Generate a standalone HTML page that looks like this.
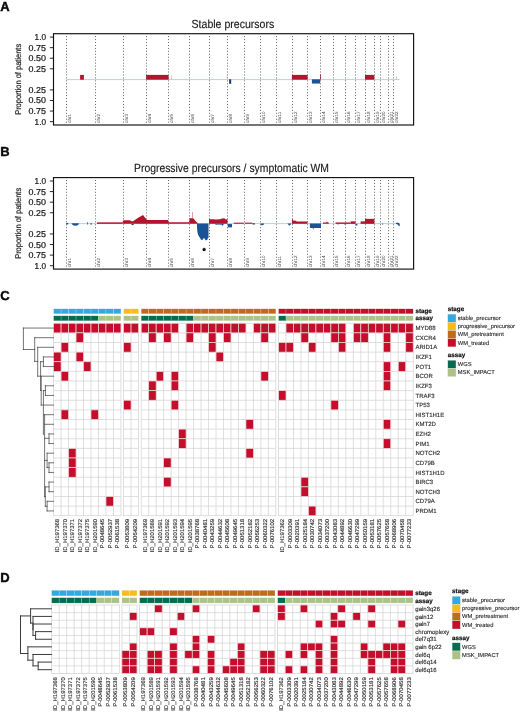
<!DOCTYPE html>
<html lang="en"><head><meta charset="utf-8"><title>Figure</title>
<style>html,body{margin:0;padding:0;background:#fff;width:520px;height:712px;overflow:hidden}svg{display:block;will-change:transform}</style></head>
<body>
<svg width="520" height="712" viewBox="0 0 520 712" text-rendering="geometricPrecision" font-family='"Liberation Sans", Arial, Helvetica, sans-serif'>
<rect width="520" height="712" fill="#fff"/>
<text x="0.2" y="11" font-size="13" font-weight="bold" fill="#0a0a0a" stroke="#0a0a0a" stroke-width="0.4">A</text>
<text x="0.2" y="155.6" font-size="13" font-weight="bold" fill="#0a0a0a" stroke="#0a0a0a" stroke-width="0.4">B</text>
<text x="0.2" y="299.75" font-size="13" font-weight="bold" fill="#0a0a0a" stroke="#0a0a0a" stroke-width="0.4">C</text>
<text x="0.2" y="581.8" font-size="13" font-weight="bold" fill="#0a0a0a" stroke="#0a0a0a" stroke-width="0.4">D</text>
<text x="232.9" y="27.8" font-size="11.8" text-anchor="middle" textLength="82.7" lengthAdjust="spacingAndGlyphs" fill="#1a1a1a" stroke="#1a1a1a" stroke-width="0.15">Stable precursors</text>
<line x1="66.5" y1="36.1" x2="66.5" y2="124.5" stroke="#4a4a4a" stroke-width="0.85" stroke-dasharray="1 1.95"/>
<line x1="95.5" y1="36.1" x2="95.5" y2="124.5" stroke="#4a4a4a" stroke-width="0.85" stroke-dasharray="1 1.95"/>
<line x1="123.5" y1="36.1" x2="123.5" y2="124.5" stroke="#4a4a4a" stroke-width="0.85" stroke-dasharray="1 1.95"/>
<line x1="146.5" y1="36.1" x2="146.5" y2="124.5" stroke="#4a4a4a" stroke-width="0.85" stroke-dasharray="1 1.95"/>
<line x1="168.5" y1="36.1" x2="168.5" y2="124.5" stroke="#4a4a4a" stroke-width="0.85" stroke-dasharray="1 1.95"/>
<line x1="189.5" y1="36.1" x2="189.5" y2="124.5" stroke="#4a4a4a" stroke-width="0.85" stroke-dasharray="1 1.95"/>
<line x1="209.5" y1="36.1" x2="209.5" y2="124.5" stroke="#4a4a4a" stroke-width="0.85" stroke-dasharray="1 1.95"/>
<line x1="227.5" y1="36.1" x2="227.5" y2="124.5" stroke="#4a4a4a" stroke-width="0.85" stroke-dasharray="1 1.95"/>
<line x1="244.5" y1="36.1" x2="244.5" y2="124.5" stroke="#4a4a4a" stroke-width="0.85" stroke-dasharray="1 1.95"/>
<line x1="260.5" y1="36.1" x2="260.5" y2="124.5" stroke="#4a4a4a" stroke-width="0.85" stroke-dasharray="1 1.95"/>
<line x1="276.5" y1="36.1" x2="276.5" y2="124.5" stroke="#4a4a4a" stroke-width="0.85" stroke-dasharray="1 1.95"/>
<line x1="292.5" y1="36.1" x2="292.5" y2="124.5" stroke="#4a4a4a" stroke-width="0.85" stroke-dasharray="1 1.95"/>
<line x1="307.5" y1="36.1" x2="307.5" y2="124.5" stroke="#4a4a4a" stroke-width="0.85" stroke-dasharray="1 1.95"/>
<line x1="320.5" y1="36.1" x2="320.5" y2="124.5" stroke="#4a4a4a" stroke-width="0.85" stroke-dasharray="1 1.95"/>
<line x1="333.5" y1="36.1" x2="333.5" y2="124.5" stroke="#4a4a4a" stroke-width="0.85" stroke-dasharray="1 1.95"/>
<line x1="345.5" y1="36.1" x2="345.5" y2="124.5" stroke="#4a4a4a" stroke-width="0.85" stroke-dasharray="1 1.95"/>
<line x1="355.5" y1="36.1" x2="355.5" y2="124.5" stroke="#4a4a4a" stroke-width="0.85" stroke-dasharray="1 1.95"/>
<line x1="365.5" y1="36.1" x2="365.5" y2="124.5" stroke="#4a4a4a" stroke-width="0.85" stroke-dasharray="1 1.95"/>
<line x1="374.5" y1="36.1" x2="374.5" y2="124.5" stroke="#4a4a4a" stroke-width="0.85" stroke-dasharray="1 1.95"/>
<line x1="380.5" y1="36.1" x2="380.5" y2="124.5" stroke="#4a4a4a" stroke-width="0.85" stroke-dasharray="1 1.95"/>
<line x1="388.5" y1="36.1" x2="388.5" y2="124.5" stroke="#4a4a4a" stroke-width="0.85" stroke-dasharray="1 1.95"/>
<line x1="393.5" y1="36.1" x2="393.5" y2="124.5" stroke="#4a4a4a" stroke-width="0.85" stroke-dasharray="1 1.95"/>
<text transform="translate(70.9 122.9) rotate(-90)" font-size="4.6" fill="#484848">chr1</text>
<text transform="translate(99.73 122.9) rotate(-90)" font-size="4.6" fill="#484848">chr2</text>
<text transform="translate(127.87 122.9) rotate(-90)" font-size="4.6" fill="#484848">chr3</text>
<text transform="translate(150.77 122.9) rotate(-90)" font-size="4.6" fill="#484848">chr4</text>
<text transform="translate(172.89 122.9) rotate(-90)" font-size="4.6" fill="#484848">chr5</text>
<text transform="translate(193.81 122.9) rotate(-90)" font-size="4.6" fill="#484848">chr6</text>
<text transform="translate(213.61 122.9) rotate(-90)" font-size="4.6" fill="#484848">chr7</text>
<text transform="translate(232.02 122.9) rotate(-90)" font-size="4.6" fill="#484848">chr8</text>
<text transform="translate(248.95 122.9) rotate(-90)" font-size="4.6" fill="#484848">chr9</text>
<text transform="translate(265.29 122.9) rotate(-90)" font-size="4.6" fill="#484848">chr10</text>
<text transform="translate(280.96 122.9) rotate(-90)" font-size="4.6" fill="#484848">chr11</text>
<text transform="translate(296.58 122.9) rotate(-90)" font-size="4.6" fill="#484848">chr12</text>
<text transform="translate(312.07 122.9) rotate(-90)" font-size="4.6" fill="#484848">chr13</text>
<text transform="translate(325.39 122.9) rotate(-90)" font-size="4.6" fill="#484848">chr14</text>
<text transform="translate(337.81 122.9) rotate(-90)" font-size="4.6" fill="#484848">chr15</text>
<text transform="translate(349.67 122.9) rotate(-90)" font-size="4.6" fill="#484848">chr16</text>
<text transform="translate(360.12 122.9) rotate(-90)" font-size="4.6" fill="#484848">chr17</text>
<text transform="translate(369.51 122.9) rotate(-90)" font-size="4.6" fill="#484848">chr18</text>
<text transform="translate(378.54 122.9) rotate(-90)" font-size="4.6" fill="#484848">chr19</text>
<text transform="translate(385.38 122.9) rotate(-90)" font-size="4.6" fill="#484848">chr20</text>
<text transform="translate(392.68 122.9) rotate(-90)" font-size="4.6" fill="#484848">chr21</text>
<text transform="translate(398.24 122.9) rotate(-90)" font-size="4.6" fill="#484848">chr22</text>
<line x1="66.4" y1="79.6" x2="399.68" y2="79.6" stroke="#b0cae0" stroke-width="0.9"/>
<rect x="80.1" y="74.9" width="3.8" height="4.8" fill="#b3152d"/>
<rect x="146.1" y="74.9" width="22.5" height="4.8" fill="#b3152d"/>
<rect x="171" y="75.3" width="0.5" height="4.4" fill="#d98a96"/>
<rect x="229.1" y="79.3" width="2.1" height="4.45" fill="#1b3f7c"/>
<rect x="226.4" y="75.15" width="0.4" height="3.95" fill="#ecc3cb"/>
<rect x="291.9" y="74.9" width="15.7" height="4.8" fill="#b3152d"/>
<rect x="311.9" y="79.3" width="8.2" height="4.25" fill="#1a5496"/>
<rect x="320.2" y="74.4" width="0.8" height="5.3" fill="#9c1a3a"/>
<rect x="365" y="74.9" width="9.3" height="4.8" fill="#b3152d"/>
<rect x="396" y="76.4" width="0.5" height="3.3" fill="#9f86b5"/>
<rect x="53.5" y="33.7" width="360.1" height="91.3" fill="none" stroke="#111" stroke-width="1.15"/>
<line x1="49.9" y1="37.08" x2="53.5" y2="37.08" stroke="#111" stroke-width="0.9"/>
<text x="46" y="40.08" font-size="8.6" text-anchor="end" textLength="11.4" lengthAdjust="spacingAndGlyphs" fill="#1a1a1a" stroke="#1a1a1a" stroke-width="0.22">1.0</text>
<line x1="49.9" y1="47.65" x2="53.5" y2="47.65" stroke="#111" stroke-width="0.9"/>
<text x="46" y="50.65" font-size="8.6" text-anchor="end" textLength="17.4" lengthAdjust="spacingAndGlyphs" fill="#1a1a1a" stroke="#1a1a1a" stroke-width="0.22">0.75</text>
<line x1="49.9" y1="58.22" x2="53.5" y2="58.22" stroke="#111" stroke-width="0.9"/>
<text x="46" y="61.22" font-size="8.6" text-anchor="end" textLength="17.4" lengthAdjust="spacingAndGlyphs" fill="#1a1a1a" stroke="#1a1a1a" stroke-width="0.22">0.50</text>
<line x1="49.9" y1="68.78" x2="53.5" y2="68.78" stroke="#111" stroke-width="0.9"/>
<text x="46" y="71.78" font-size="8.6" text-anchor="end" textLength="17.4" lengthAdjust="spacingAndGlyphs" fill="#1a1a1a" stroke="#1a1a1a" stroke-width="0.22">0.25</text>
<line x1="49.9" y1="89.92" x2="53.5" y2="89.92" stroke="#111" stroke-width="0.9"/>
<text x="46" y="92.92" font-size="8.6" text-anchor="end" textLength="17.4" lengthAdjust="spacingAndGlyphs" fill="#1a1a1a" stroke="#1a1a1a" stroke-width="0.22">0.25</text>
<line x1="49.9" y1="100.48" x2="53.5" y2="100.48" stroke="#111" stroke-width="0.9"/>
<text x="46" y="103.48" font-size="8.6" text-anchor="end" textLength="17.4" lengthAdjust="spacingAndGlyphs" fill="#1a1a1a" stroke="#1a1a1a" stroke-width="0.22">0.50</text>
<line x1="49.9" y1="111.05" x2="53.5" y2="111.05" stroke="#111" stroke-width="0.9"/>
<text x="46" y="114.05" font-size="8.6" text-anchor="end" textLength="17.4" lengthAdjust="spacingAndGlyphs" fill="#1a1a1a" stroke="#1a1a1a" stroke-width="0.22">0.75</text>
<line x1="49.9" y1="121.62" x2="53.5" y2="121.62" stroke="#111" stroke-width="0.9"/>
<text x="46" y="124.62" font-size="8.6" text-anchor="end" textLength="11.4" lengthAdjust="spacingAndGlyphs" fill="#1a1a1a" stroke="#1a1a1a" stroke-width="0.22">1.0</text>
<text transform="translate(21 79.35) rotate(-90)" font-size="8.3" text-anchor="middle" textLength="71" lengthAdjust="spacingAndGlyphs" fill="#1a1a1a" stroke="#1a1a1a" stroke-width="0.2">Proportion of patients</text>
<text x="231.5" y="172.3" font-size="11.8" text-anchor="middle" textLength="195" lengthAdjust="spacingAndGlyphs" fill="#1a1a1a" stroke="#1a1a1a" stroke-width="0.15">Progressive precursors / symptomatic WM</text>
<line x1="66.5" y1="180" x2="66.5" y2="268.6" stroke="#4a4a4a" stroke-width="0.85" stroke-dasharray="1 1.95"/>
<line x1="95.5" y1="180" x2="95.5" y2="268.6" stroke="#4a4a4a" stroke-width="0.85" stroke-dasharray="1 1.95"/>
<line x1="123.5" y1="180" x2="123.5" y2="268.6" stroke="#4a4a4a" stroke-width="0.85" stroke-dasharray="1 1.95"/>
<line x1="146.5" y1="180" x2="146.5" y2="268.6" stroke="#4a4a4a" stroke-width="0.85" stroke-dasharray="1 1.95"/>
<line x1="168.5" y1="180" x2="168.5" y2="268.6" stroke="#4a4a4a" stroke-width="0.85" stroke-dasharray="1 1.95"/>
<line x1="189.5" y1="180" x2="189.5" y2="268.6" stroke="#4a4a4a" stroke-width="0.85" stroke-dasharray="1 1.95"/>
<line x1="209.5" y1="180" x2="209.5" y2="268.6" stroke="#4a4a4a" stroke-width="0.85" stroke-dasharray="1 1.95"/>
<line x1="227.5" y1="180" x2="227.5" y2="268.6" stroke="#4a4a4a" stroke-width="0.85" stroke-dasharray="1 1.95"/>
<line x1="244.5" y1="180" x2="244.5" y2="268.6" stroke="#4a4a4a" stroke-width="0.85" stroke-dasharray="1 1.95"/>
<line x1="260.5" y1="180" x2="260.5" y2="268.6" stroke="#4a4a4a" stroke-width="0.85" stroke-dasharray="1 1.95"/>
<line x1="276.5" y1="180" x2="276.5" y2="268.6" stroke="#4a4a4a" stroke-width="0.85" stroke-dasharray="1 1.95"/>
<line x1="292.5" y1="180" x2="292.5" y2="268.6" stroke="#4a4a4a" stroke-width="0.85" stroke-dasharray="1 1.95"/>
<line x1="307.5" y1="180" x2="307.5" y2="268.6" stroke="#4a4a4a" stroke-width="0.85" stroke-dasharray="1 1.95"/>
<line x1="320.5" y1="180" x2="320.5" y2="268.6" stroke="#4a4a4a" stroke-width="0.85" stroke-dasharray="1 1.95"/>
<line x1="333.5" y1="180" x2="333.5" y2="268.6" stroke="#4a4a4a" stroke-width="0.85" stroke-dasharray="1 1.95"/>
<line x1="345.5" y1="180" x2="345.5" y2="268.6" stroke="#4a4a4a" stroke-width="0.85" stroke-dasharray="1 1.95"/>
<line x1="355.5" y1="180" x2="355.5" y2="268.6" stroke="#4a4a4a" stroke-width="0.85" stroke-dasharray="1 1.95"/>
<line x1="365.5" y1="180" x2="365.5" y2="268.6" stroke="#4a4a4a" stroke-width="0.85" stroke-dasharray="1 1.95"/>
<line x1="374.5" y1="180" x2="374.5" y2="268.6" stroke="#4a4a4a" stroke-width="0.85" stroke-dasharray="1 1.95"/>
<line x1="380.5" y1="180" x2="380.5" y2="268.6" stroke="#4a4a4a" stroke-width="0.85" stroke-dasharray="1 1.95"/>
<line x1="388.5" y1="180" x2="388.5" y2="268.6" stroke="#4a4a4a" stroke-width="0.85" stroke-dasharray="1 1.95"/>
<line x1="393.5" y1="180" x2="393.5" y2="268.6" stroke="#4a4a4a" stroke-width="0.85" stroke-dasharray="1 1.95"/>
<text transform="translate(70.9 267) rotate(-90)" font-size="4.6" fill="#484848">chr1</text>
<text transform="translate(99.73 267) rotate(-90)" font-size="4.6" fill="#484848">chr2</text>
<text transform="translate(127.87 267) rotate(-90)" font-size="4.6" fill="#484848">chr3</text>
<text transform="translate(150.77 267) rotate(-90)" font-size="4.6" fill="#484848">chr4</text>
<text transform="translate(172.89 267) rotate(-90)" font-size="4.6" fill="#484848">chr5</text>
<text transform="translate(193.81 267) rotate(-90)" font-size="4.6" fill="#484848">chr6</text>
<text transform="translate(213.61 267) rotate(-90)" font-size="4.6" fill="#484848">chr7</text>
<text transform="translate(232.02 267) rotate(-90)" font-size="4.6" fill="#484848">chr8</text>
<text transform="translate(248.95 267) rotate(-90)" font-size="4.6" fill="#484848">chr9</text>
<text transform="translate(265.29 267) rotate(-90)" font-size="4.6" fill="#484848">chr10</text>
<text transform="translate(280.96 267) rotate(-90)" font-size="4.6" fill="#484848">chr11</text>
<text transform="translate(296.58 267) rotate(-90)" font-size="4.6" fill="#484848">chr12</text>
<text transform="translate(312.07 267) rotate(-90)" font-size="4.6" fill="#484848">chr13</text>
<text transform="translate(325.39 267) rotate(-90)" font-size="4.6" fill="#484848">chr14</text>
<text transform="translate(337.81 267) rotate(-90)" font-size="4.6" fill="#484848">chr15</text>
<text transform="translate(349.67 267) rotate(-90)" font-size="4.6" fill="#484848">chr16</text>
<text transform="translate(360.12 267) rotate(-90)" font-size="4.6" fill="#484848">chr17</text>
<text transform="translate(369.51 267) rotate(-90)" font-size="4.6" fill="#484848">chr18</text>
<text transform="translate(378.54 267) rotate(-90)" font-size="4.6" fill="#484848">chr19</text>
<text transform="translate(385.38 267) rotate(-90)" font-size="4.6" fill="#484848">chr20</text>
<text transform="translate(392.68 267) rotate(-90)" font-size="4.6" fill="#484848">chr21</text>
<text transform="translate(398.24 267) rotate(-90)" font-size="4.6" fill="#484848">chr22</text>
<line x1="66.4" y1="223.6" x2="399.68" y2="223.6" stroke="#b0cae0" stroke-width="0.9"/>
<rect x="66.2" y="222.95" width="2" height="1.4" fill="#1a5496"/>
<polygon points="71.5,223.35 79,223.35 78.2,224.95 76,225.75 73.5,225.55 72.2,224.55" fill="#1a5496"/>
<rect x="87.2" y="222.15" width="0.7" height="2.4" fill="#1a5496"/>
<rect x="90.6" y="222.75" width="1" height="2" fill="#1a5496"/>
<rect x="97" y="222.35" width="25.6" height="1.5" fill="#b3152d"/>
<polygon points="122.6,223.85 122.6,221.75 123.5,220.15 130,220.15 131.5,221.15 133.2,221.35 134.4,220.15 139,217.35 143.1,215.05 144,216.35 146.9,220.05 168.1,220.05 168.6,222.35 189.2,222.35 189.2,223.85" fill="#b3152d"/>
<rect x="131.6" y="223.95" width="2" height="1.1" fill="#3b3260"/>
<polygon points="189.2,223.85 189.2,222.35 189.7,218.15 193.3,218.15 196.9,222.45 197.6,222.45 197.6,223.85" fill="#b3152d"/>
<rect x="192.3" y="212.15" width="0.5" height="6.2" fill="#c4384e"/>
<polygon points="196.9,223.55 208.5,223.55 208.5,237.75 207.8,238.15 207.2,239.95 205.4,240.25 204.6,238.35 203.6,238.15 202.8,239.65 200.8,239.65 200.3,238.15 199,236.55 198,234.55 197.4,231.85 197,227.35" fill="#1a5496"/>
<polygon points="209,223.85 209,219.15 214,219.15 215,219.55 220,219.35 222,218.55 224.5,218.35 225.2,219.15 227.5,219.35 227.5,223.85" fill="#b3152d"/>
<polygon points="214.5,223.85 224,223.85 223.4,224.75 222.6,225.95 221.8,224.75 218,224.55 216,224.85" fill="#1a5496"/>
<rect x="227.8" y="224.05" width="4.2" height="3.3" fill="#1a5496"/>
<rect x="233.8" y="222.65" width="10" height="1.1" fill="#b3152d"/>
<rect x="245" y="222.65" width="7.4" height="1.1" fill="#b3152d"/>
<rect x="252.6" y="223.15" width="2.2" height="1.4" fill="#1a5496"/>
<polygon points="260.6,223.55 264.2,223.55 263.4,224.95 261.2,225.15" fill="#1a5496"/>
<polygon points="287.4,223.55 291.2,223.55 290.4,224.95 289.2,225.55 288.2,224.55" fill="#1a5496"/>
<polygon points="291.9,223.85 291.9,218.95 292.6,218.95 293,220.55 296,220.75 296.6,221.45 307.5,221.45 307.5,223.85" fill="#b3152d"/>
<polygon points="309.9,223.55 321,223.55 321,228.05 313.6,228.05 313.2,229.95 312.7,228.05 309.9,228.05" fill="#1a5496"/>
<polygon points="323,223.85 323,222.45 326.2,222.45 327,221.55 327.8,222.45 328.8,222.45 328.8,223.85" fill="#b3152d"/>
<rect x="335.6" y="222.45" width="15" height="1.4" fill="#b3152d"/>
<rect x="337.7" y="223.85" width="0.7" height="0.8" fill="#1a5496"/>
<rect x="344.6" y="223.85" width="0.8" height="0.8" fill="#1a5496"/>
<rect x="350.6" y="221.35" width="4.9" height="2.5" fill="#b3152d"/>
<rect x="355.1" y="207.85" width="0.3" height="13.5" fill="#e59aa5"/>
<rect x="355.8" y="223.75" width="1.6" height="1.8" fill="#1a5496"/>
<rect x="360.6" y="221.35" width="4.4" height="2.5" fill="#b3152d"/>
<rect x="365" y="218.85" width="9.4" height="5" fill="#b3152d"/>
<rect x="382.2" y="223.55" width="1" height="1" fill="#1a5496"/>
<polygon points="396,222.75 398.6,222.75 399.8,223.95 399.6,226.25 398.6,225.75 397.4,224.25 396,223.95" fill="#1a5496"/>
<text x="204.1" y="252.95" font-size="7" text-anchor="middle" fill="#111" font-weight="bold" stroke="#111" stroke-width="0.7" stroke-linejoin="round">*</text>
<rect x="53.5" y="177.6" width="360.1" height="91.5" fill="none" stroke="#111" stroke-width="1.15"/>
<line x1="49.9" y1="180.99" x2="53.5" y2="180.99" stroke="#111" stroke-width="0.9"/>
<text x="46" y="183.99" font-size="8.6" text-anchor="end" textLength="11.4" lengthAdjust="spacingAndGlyphs" fill="#1a1a1a" stroke="#1a1a1a" stroke-width="0.22">1.0</text>
<line x1="49.9" y1="191.58" x2="53.5" y2="191.58" stroke="#111" stroke-width="0.9"/>
<text x="46" y="194.58" font-size="8.6" text-anchor="end" textLength="17.4" lengthAdjust="spacingAndGlyphs" fill="#1a1a1a" stroke="#1a1a1a" stroke-width="0.22">0.75</text>
<line x1="49.9" y1="202.17" x2="53.5" y2="202.17" stroke="#111" stroke-width="0.9"/>
<text x="46" y="205.17" font-size="8.6" text-anchor="end" textLength="17.4" lengthAdjust="spacingAndGlyphs" fill="#1a1a1a" stroke="#1a1a1a" stroke-width="0.22">0.50</text>
<line x1="49.9" y1="212.76" x2="53.5" y2="212.76" stroke="#111" stroke-width="0.9"/>
<text x="46" y="215.76" font-size="8.6" text-anchor="end" textLength="17.4" lengthAdjust="spacingAndGlyphs" fill="#1a1a1a" stroke="#1a1a1a" stroke-width="0.22">0.25</text>
<line x1="49.9" y1="233.94" x2="53.5" y2="233.94" stroke="#111" stroke-width="0.9"/>
<text x="46" y="236.94" font-size="8.6" text-anchor="end" textLength="17.4" lengthAdjust="spacingAndGlyphs" fill="#1a1a1a" stroke="#1a1a1a" stroke-width="0.22">0.25</text>
<line x1="49.9" y1="244.53" x2="53.5" y2="244.53" stroke="#111" stroke-width="0.9"/>
<text x="46" y="247.53" font-size="8.6" text-anchor="end" textLength="17.4" lengthAdjust="spacingAndGlyphs" fill="#1a1a1a" stroke="#1a1a1a" stroke-width="0.22">0.50</text>
<line x1="49.9" y1="255.12" x2="53.5" y2="255.12" stroke="#111" stroke-width="0.9"/>
<text x="46" y="258.12" font-size="8.6" text-anchor="end" textLength="17.4" lengthAdjust="spacingAndGlyphs" fill="#1a1a1a" stroke="#1a1a1a" stroke-width="0.22">0.75</text>
<line x1="49.9" y1="265.71" x2="53.5" y2="265.71" stroke="#111" stroke-width="0.9"/>
<text x="46" y="268.71" font-size="8.6" text-anchor="end" textLength="11.4" lengthAdjust="spacingAndGlyphs" fill="#1a1a1a" stroke="#1a1a1a" stroke-width="0.22">1.0</text>
<text transform="translate(21 223.35) rotate(-90)" font-size="8.3" text-anchor="middle" textLength="71" lengthAdjust="spacingAndGlyphs" fill="#1a1a1a" stroke="#1a1a1a" stroke-width="0.2">Proportion of patients</text>
<rect x="53.6" y="308.8" width="7.48" height="5" fill="#32a9df" stroke="#fff" stroke-opacity="0.55" stroke-width="0.35"/>
<rect x="53.6" y="315.8" width="7.48" height="5" fill="#066c50" stroke="#fff" stroke-opacity="0.55" stroke-width="0.35"/>
<rect x="61.08" y="308.8" width="7.48" height="5" fill="#32a9df" stroke="#fff" stroke-opacity="0.55" stroke-width="0.35"/>
<rect x="61.08" y="315.8" width="7.48" height="5" fill="#066c50" stroke="#fff" stroke-opacity="0.55" stroke-width="0.35"/>
<rect x="68.56" y="308.8" width="7.48" height="5" fill="#32a9df" stroke="#fff" stroke-opacity="0.55" stroke-width="0.35"/>
<rect x="68.56" y="315.8" width="7.48" height="5" fill="#066c50" stroke="#fff" stroke-opacity="0.55" stroke-width="0.35"/>
<rect x="76.05" y="308.8" width="7.48" height="5" fill="#32a9df" stroke="#fff" stroke-opacity="0.55" stroke-width="0.35"/>
<rect x="76.05" y="315.8" width="7.48" height="5" fill="#066c50" stroke="#fff" stroke-opacity="0.55" stroke-width="0.35"/>
<rect x="83.53" y="308.8" width="7.48" height="5" fill="#32a9df" stroke="#fff" stroke-opacity="0.55" stroke-width="0.35"/>
<rect x="83.53" y="315.8" width="7.48" height="5" fill="#066c50" stroke="#fff" stroke-opacity="0.55" stroke-width="0.35"/>
<rect x="91.01" y="308.8" width="7.48" height="5" fill="#32a9df" stroke="#fff" stroke-opacity="0.55" stroke-width="0.35"/>
<rect x="91.01" y="315.8" width="7.48" height="5" fill="#066c50" stroke="#fff" stroke-opacity="0.55" stroke-width="0.35"/>
<rect x="98.49" y="308.8" width="7.48" height="5" fill="#32a9df" stroke="#fff" stroke-opacity="0.55" stroke-width="0.35"/>
<rect x="98.49" y="315.8" width="7.48" height="5" fill="#acc388" stroke="#fff" stroke-opacity="0.55" stroke-width="0.35"/>
<rect x="105.97" y="308.8" width="7.48" height="5" fill="#32a9df" stroke="#fff" stroke-opacity="0.55" stroke-width="0.35"/>
<rect x="105.97" y="315.8" width="7.48" height="5" fill="#acc388" stroke="#fff" stroke-opacity="0.55" stroke-width="0.35"/>
<rect x="113.46" y="308.8" width="7.48" height="5" fill="#32a9df" stroke="#fff" stroke-opacity="0.55" stroke-width="0.35"/>
<rect x="113.46" y="315.8" width="7.48" height="5" fill="#acc388" stroke="#fff" stroke-opacity="0.55" stroke-width="0.35"/>
<rect x="123.59" y="308.8" width="7.48" height="5" fill="#f8bd14" stroke="#fff" stroke-opacity="0.55" stroke-width="0.35"/>
<rect x="123.59" y="315.8" width="7.48" height="5" fill="#acc388" stroke="#fff" stroke-opacity="0.55" stroke-width="0.35"/>
<rect x="131.07" y="308.8" width="7.48" height="5" fill="#f8bd14" stroke="#fff" stroke-opacity="0.55" stroke-width="0.35"/>
<rect x="131.07" y="315.8" width="7.48" height="5" fill="#acc388" stroke="#fff" stroke-opacity="0.55" stroke-width="0.35"/>
<rect x="141.2" y="308.8" width="7.48" height="5" fill="#c06b1b" stroke="#fff" stroke-opacity="0.55" stroke-width="0.35"/>
<rect x="141.2" y="315.8" width="7.48" height="5" fill="#066c50" stroke="#fff" stroke-opacity="0.55" stroke-width="0.35"/>
<rect x="148.68" y="308.8" width="7.48" height="5" fill="#c06b1b" stroke="#fff" stroke-opacity="0.55" stroke-width="0.35"/>
<rect x="148.68" y="315.8" width="7.48" height="5" fill="#066c50" stroke="#fff" stroke-opacity="0.55" stroke-width="0.35"/>
<rect x="156.16" y="308.8" width="7.48" height="5" fill="#c06b1b" stroke="#fff" stroke-opacity="0.55" stroke-width="0.35"/>
<rect x="156.16" y="315.8" width="7.48" height="5" fill="#066c50" stroke="#fff" stroke-opacity="0.55" stroke-width="0.35"/>
<rect x="163.65" y="308.8" width="7.48" height="5" fill="#c06b1b" stroke="#fff" stroke-opacity="0.55" stroke-width="0.35"/>
<rect x="163.65" y="315.8" width="7.48" height="5" fill="#066c50" stroke="#fff" stroke-opacity="0.55" stroke-width="0.35"/>
<rect x="171.13" y="308.8" width="7.48" height="5" fill="#c06b1b" stroke="#fff" stroke-opacity="0.55" stroke-width="0.35"/>
<rect x="171.13" y="315.8" width="7.48" height="5" fill="#066c50" stroke="#fff" stroke-opacity="0.55" stroke-width="0.35"/>
<rect x="178.61" y="308.8" width="7.48" height="5" fill="#c06b1b" stroke="#fff" stroke-opacity="0.55" stroke-width="0.35"/>
<rect x="178.61" y="315.8" width="7.48" height="5" fill="#066c50" stroke="#fff" stroke-opacity="0.55" stroke-width="0.35"/>
<rect x="186.09" y="308.8" width="7.48" height="5" fill="#c06b1b" stroke="#fff" stroke-opacity="0.55" stroke-width="0.35"/>
<rect x="186.09" y="315.8" width="7.48" height="5" fill="#066c50" stroke="#fff" stroke-opacity="0.55" stroke-width="0.35"/>
<rect x="193.57" y="308.8" width="7.48" height="5" fill="#c06b1b" stroke="#fff" stroke-opacity="0.55" stroke-width="0.35"/>
<rect x="193.57" y="315.8" width="7.48" height="5" fill="#acc388" stroke="#fff" stroke-opacity="0.55" stroke-width="0.35"/>
<rect x="201.06" y="308.8" width="7.48" height="5" fill="#c06b1b" stroke="#fff" stroke-opacity="0.55" stroke-width="0.35"/>
<rect x="201.06" y="315.8" width="7.48" height="5" fill="#acc388" stroke="#fff" stroke-opacity="0.55" stroke-width="0.35"/>
<rect x="208.54" y="308.8" width="7.48" height="5" fill="#c06b1b" stroke="#fff" stroke-opacity="0.55" stroke-width="0.35"/>
<rect x="208.54" y="315.8" width="7.48" height="5" fill="#acc388" stroke="#fff" stroke-opacity="0.55" stroke-width="0.35"/>
<rect x="216.02" y="308.8" width="7.48" height="5" fill="#c06b1b" stroke="#fff" stroke-opacity="0.55" stroke-width="0.35"/>
<rect x="216.02" y="315.8" width="7.48" height="5" fill="#acc388" stroke="#fff" stroke-opacity="0.55" stroke-width="0.35"/>
<rect x="223.5" y="308.8" width="7.48" height="5" fill="#c06b1b" stroke="#fff" stroke-opacity="0.55" stroke-width="0.35"/>
<rect x="223.5" y="315.8" width="7.48" height="5" fill="#acc388" stroke="#fff" stroke-opacity="0.55" stroke-width="0.35"/>
<rect x="230.98" y="308.8" width="7.48" height="5" fill="#c06b1b" stroke="#fff" stroke-opacity="0.55" stroke-width="0.35"/>
<rect x="230.98" y="315.8" width="7.48" height="5" fill="#acc388" stroke="#fff" stroke-opacity="0.55" stroke-width="0.35"/>
<rect x="238.47" y="308.8" width="7.48" height="5" fill="#c06b1b" stroke="#fff" stroke-opacity="0.55" stroke-width="0.35"/>
<rect x="238.47" y="315.8" width="7.48" height="5" fill="#acc388" stroke="#fff" stroke-opacity="0.55" stroke-width="0.35"/>
<rect x="245.95" y="308.8" width="7.48" height="5" fill="#c06b1b" stroke="#fff" stroke-opacity="0.55" stroke-width="0.35"/>
<rect x="245.95" y="315.8" width="7.48" height="5" fill="#acc388" stroke="#fff" stroke-opacity="0.55" stroke-width="0.35"/>
<rect x="253.43" y="308.8" width="7.48" height="5" fill="#c06b1b" stroke="#fff" stroke-opacity="0.55" stroke-width="0.35"/>
<rect x="253.43" y="315.8" width="7.48" height="5" fill="#acc388" stroke="#fff" stroke-opacity="0.55" stroke-width="0.35"/>
<rect x="260.91" y="308.8" width="7.48" height="5" fill="#c06b1b" stroke="#fff" stroke-opacity="0.55" stroke-width="0.35"/>
<rect x="260.91" y="315.8" width="7.48" height="5" fill="#acc388" stroke="#fff" stroke-opacity="0.55" stroke-width="0.35"/>
<rect x="268.39" y="308.8" width="7.48" height="5" fill="#c06b1b" stroke="#fff" stroke-opacity="0.55" stroke-width="0.35"/>
<rect x="268.39" y="315.8" width="7.48" height="5" fill="#acc388" stroke="#fff" stroke-opacity="0.55" stroke-width="0.35"/>
<rect x="278.53" y="308.8" width="7.48" height="5" fill="#c30e2c" stroke="#fff" stroke-opacity="0.55" stroke-width="0.35"/>
<rect x="278.53" y="315.8" width="7.48" height="5" fill="#066c50" stroke="#fff" stroke-opacity="0.55" stroke-width="0.35"/>
<rect x="286.01" y="308.8" width="7.48" height="5" fill="#c30e2c" stroke="#fff" stroke-opacity="0.55" stroke-width="0.35"/>
<rect x="286.01" y="315.8" width="7.48" height="5" fill="#acc388" stroke="#fff" stroke-opacity="0.55" stroke-width="0.35"/>
<rect x="293.49" y="308.8" width="7.48" height="5" fill="#c30e2c" stroke="#fff" stroke-opacity="0.55" stroke-width="0.35"/>
<rect x="293.49" y="315.8" width="7.48" height="5" fill="#acc388" stroke="#fff" stroke-opacity="0.55" stroke-width="0.35"/>
<rect x="300.97" y="308.8" width="7.48" height="5" fill="#c30e2c" stroke="#fff" stroke-opacity="0.55" stroke-width="0.35"/>
<rect x="300.97" y="315.8" width="7.48" height="5" fill="#acc388" stroke="#fff" stroke-opacity="0.55" stroke-width="0.35"/>
<rect x="308.45" y="308.8" width="7.48" height="5" fill="#c30e2c" stroke="#fff" stroke-opacity="0.55" stroke-width="0.35"/>
<rect x="308.45" y="315.8" width="7.48" height="5" fill="#acc388" stroke="#fff" stroke-opacity="0.55" stroke-width="0.35"/>
<rect x="315.94" y="308.8" width="7.48" height="5" fill="#c30e2c" stroke="#fff" stroke-opacity="0.55" stroke-width="0.35"/>
<rect x="315.94" y="315.8" width="7.48" height="5" fill="#acc388" stroke="#fff" stroke-opacity="0.55" stroke-width="0.35"/>
<rect x="323.42" y="308.8" width="7.48" height="5" fill="#c30e2c" stroke="#fff" stroke-opacity="0.55" stroke-width="0.35"/>
<rect x="323.42" y="315.8" width="7.48" height="5" fill="#acc388" stroke="#fff" stroke-opacity="0.55" stroke-width="0.35"/>
<rect x="330.9" y="308.8" width="7.48" height="5" fill="#c30e2c" stroke="#fff" stroke-opacity="0.55" stroke-width="0.35"/>
<rect x="330.9" y="315.8" width="7.48" height="5" fill="#acc388" stroke="#fff" stroke-opacity="0.55" stroke-width="0.35"/>
<rect x="338.38" y="308.8" width="7.48" height="5" fill="#c30e2c" stroke="#fff" stroke-opacity="0.55" stroke-width="0.35"/>
<rect x="338.38" y="315.8" width="7.48" height="5" fill="#acc388" stroke="#fff" stroke-opacity="0.55" stroke-width="0.35"/>
<rect x="345.86" y="308.8" width="7.48" height="5" fill="#c30e2c" stroke="#fff" stroke-opacity="0.55" stroke-width="0.35"/>
<rect x="345.86" y="315.8" width="7.48" height="5" fill="#acc388" stroke="#fff" stroke-opacity="0.55" stroke-width="0.35"/>
<rect x="353.34" y="308.8" width="7.48" height="5" fill="#c30e2c" stroke="#fff" stroke-opacity="0.55" stroke-width="0.35"/>
<rect x="353.34" y="315.8" width="7.48" height="5" fill="#acc388" stroke="#fff" stroke-opacity="0.55" stroke-width="0.35"/>
<rect x="360.83" y="308.8" width="7.48" height="5" fill="#c30e2c" stroke="#fff" stroke-opacity="0.55" stroke-width="0.35"/>
<rect x="360.83" y="315.8" width="7.48" height="5" fill="#acc388" stroke="#fff" stroke-opacity="0.55" stroke-width="0.35"/>
<rect x="368.31" y="308.8" width="7.48" height="5" fill="#c30e2c" stroke="#fff" stroke-opacity="0.55" stroke-width="0.35"/>
<rect x="368.31" y="315.8" width="7.48" height="5" fill="#acc388" stroke="#fff" stroke-opacity="0.55" stroke-width="0.35"/>
<rect x="375.79" y="308.8" width="7.48" height="5" fill="#c30e2c" stroke="#fff" stroke-opacity="0.55" stroke-width="0.35"/>
<rect x="375.79" y="315.8" width="7.48" height="5" fill="#acc388" stroke="#fff" stroke-opacity="0.55" stroke-width="0.35"/>
<rect x="383.27" y="308.8" width="7.48" height="5" fill="#c30e2c" stroke="#fff" stroke-opacity="0.55" stroke-width="0.35"/>
<rect x="383.27" y="315.8" width="7.48" height="5" fill="#acc388" stroke="#fff" stroke-opacity="0.55" stroke-width="0.35"/>
<rect x="390.75" y="308.8" width="7.48" height="5" fill="#c30e2c" stroke="#fff" stroke-opacity="0.55" stroke-width="0.35"/>
<rect x="390.75" y="315.8" width="7.48" height="5" fill="#acc388" stroke="#fff" stroke-opacity="0.55" stroke-width="0.35"/>
<rect x="398.24" y="308.8" width="7.48" height="5" fill="#c30e2c" stroke="#fff" stroke-opacity="0.55" stroke-width="0.35"/>
<rect x="398.24" y="315.8" width="7.48" height="5" fill="#acc388" stroke="#fff" stroke-opacity="0.55" stroke-width="0.35"/>
<rect x="405.72" y="308.8" width="7.48" height="5" fill="#c30e2c" stroke="#fff" stroke-opacity="0.55" stroke-width="0.35"/>
<rect x="405.72" y="315.8" width="7.48" height="5" fill="#acc388" stroke="#fff" stroke-opacity="0.55" stroke-width="0.35"/>
<rect x="53.6" y="323.25" width="67.34" height="192.5" fill="#fff" stroke="#d1d1d1" stroke-width="0.7"/>
<path d="M61.08 323.25V515.75M68.56 323.25V515.75M76.05 323.25V515.75M83.53 323.25V515.75M91.01 323.25V515.75M98.49 323.25V515.75M105.97 323.25V515.75M113.46 323.25V515.75M53.6 332.88H120.94M53.6 342.5H120.94M53.6 352.12H120.94M53.6 361.75H120.94M53.6 371.38H120.94M53.6 381H120.94M53.6 390.62H120.94M53.6 400.25H120.94M53.6 409.88H120.94M53.6 419.5H120.94M53.6 429.12H120.94M53.6 438.75H120.94M53.6 448.38H120.94M53.6 458H120.94M53.6 467.62H120.94M53.6 477.25H120.94M53.6 486.88H120.94M53.6 496.5H120.94M53.6 506.12H120.94" stroke="#d1d1d1" stroke-width="0.7" fill="none"/>
<rect x="123.59" y="323.25" width="14.96" height="192.5" fill="#fff" stroke="#d1d1d1" stroke-width="0.7"/>
<path d="M131.07 323.25V515.75M123.59 332.88H138.55M123.59 342.5H138.55M123.59 352.12H138.55M123.59 361.75H138.55M123.59 371.38H138.55M123.59 381H138.55M123.59 390.62H138.55M123.59 400.25H138.55M123.59 409.88H138.55M123.59 419.5H138.55M123.59 429.12H138.55M123.59 438.75H138.55M123.59 448.38H138.55M123.59 458H138.55M123.59 467.62H138.55M123.59 477.25H138.55M123.59 486.88H138.55M123.59 496.5H138.55M123.59 506.12H138.55" stroke="#d1d1d1" stroke-width="0.7" fill="none"/>
<rect x="141.2" y="323.25" width="134.67" height="192.5" fill="#fff" stroke="#d1d1d1" stroke-width="0.7"/>
<path d="M148.68 323.25V515.75M156.16 323.25V515.75M163.65 323.25V515.75M171.13 323.25V515.75M178.61 323.25V515.75M186.09 323.25V515.75M193.57 323.25V515.75M201.06 323.25V515.75M208.54 323.25V515.75M216.02 323.25V515.75M223.5 323.25V515.75M230.98 323.25V515.75M238.47 323.25V515.75M245.95 323.25V515.75M253.43 323.25V515.75M260.91 323.25V515.75M268.39 323.25V515.75M141.2 332.88H275.88M141.2 342.5H275.88M141.2 352.12H275.88M141.2 361.75H275.88M141.2 371.38H275.88M141.2 381H275.88M141.2 390.62H275.88M141.2 400.25H275.88M141.2 409.88H275.88M141.2 419.5H275.88M141.2 429.12H275.88M141.2 438.75H275.88M141.2 448.38H275.88M141.2 458H275.88M141.2 467.62H275.88M141.2 477.25H275.88M141.2 486.88H275.88M141.2 496.5H275.88M141.2 506.12H275.88" stroke="#d1d1d1" stroke-width="0.7" fill="none"/>
<rect x="278.53" y="323.25" width="134.67" height="192.5" fill="#fff" stroke="#d1d1d1" stroke-width="0.7"/>
<path d="M286.01 323.25V515.75M293.49 323.25V515.75M300.97 323.25V515.75M308.45 323.25V515.75M315.94 323.25V515.75M323.42 323.25V515.75M330.9 323.25V515.75M338.38 323.25V515.75M345.86 323.25V515.75M353.34 323.25V515.75M360.83 323.25V515.75M368.31 323.25V515.75M375.79 323.25V515.75M383.27 323.25V515.75M390.75 323.25V515.75M398.24 323.25V515.75M405.72 323.25V515.75M278.53 332.88H413.2M278.53 342.5H413.2M278.53 352.12H413.2M278.53 361.75H413.2M278.53 371.38H413.2M278.53 381H413.2M278.53 390.62H413.2M278.53 400.25H413.2M278.53 409.88H413.2M278.53 419.5H413.2M278.53 429.12H413.2M278.53 438.75H413.2M278.53 448.38H413.2M278.53 458H413.2M278.53 467.62H413.2M278.53 477.25H413.2M278.53 486.88H413.2M278.53 496.5H413.2M278.53 506.12H413.2" stroke="#d1d1d1" stroke-width="0.7" fill="none"/>
<rect x="53.6" y="323.25" width="7.48" height="9.62" fill="#c50d2c" stroke="#efdcde" stroke-width="0.7"/>
<rect x="61.08" y="323.25" width="7.48" height="9.62" fill="#c50d2c" stroke="#efdcde" stroke-width="0.7"/>
<rect x="68.56" y="323.25" width="7.48" height="9.62" fill="#c50d2c" stroke="#efdcde" stroke-width="0.7"/>
<rect x="76.05" y="323.25" width="7.48" height="9.62" fill="#c50d2c" stroke="#efdcde" stroke-width="0.7"/>
<rect x="83.53" y="323.25" width="7.48" height="9.62" fill="#c50d2c" stroke="#efdcde" stroke-width="0.7"/>
<rect x="91.01" y="323.25" width="7.48" height="9.62" fill="#c50d2c" stroke="#efdcde" stroke-width="0.7"/>
<rect x="98.49" y="323.25" width="7.48" height="9.62" fill="#c50d2c" stroke="#efdcde" stroke-width="0.7"/>
<rect x="105.97" y="323.25" width="7.48" height="9.62" fill="#c50d2c" stroke="#efdcde" stroke-width="0.7"/>
<rect x="113.46" y="323.25" width="7.48" height="9.62" fill="#c50d2c" stroke="#efdcde" stroke-width="0.7"/>
<rect x="123.59" y="323.25" width="7.48" height="9.62" fill="#c50d2c" stroke="#efdcde" stroke-width="0.7"/>
<rect x="131.07" y="323.25" width="7.48" height="9.62" fill="#c50d2c" stroke="#efdcde" stroke-width="0.7"/>
<rect x="141.2" y="323.25" width="7.48" height="9.62" fill="#c50d2c" stroke="#efdcde" stroke-width="0.7"/>
<rect x="148.68" y="323.25" width="7.48" height="9.62" fill="#c50d2c" stroke="#efdcde" stroke-width="0.7"/>
<rect x="156.16" y="323.25" width="7.48" height="9.62" fill="#c50d2c" stroke="#efdcde" stroke-width="0.7"/>
<rect x="163.65" y="323.25" width="7.48" height="9.62" fill="#c50d2c" stroke="#efdcde" stroke-width="0.7"/>
<rect x="171.13" y="323.25" width="7.48" height="9.62" fill="#c50d2c" stroke="#efdcde" stroke-width="0.7"/>
<rect x="186.09" y="323.25" width="7.48" height="9.62" fill="#c50d2c" stroke="#efdcde" stroke-width="0.7"/>
<rect x="193.57" y="323.25" width="7.48" height="9.62" fill="#c50d2c" stroke="#efdcde" stroke-width="0.7"/>
<rect x="201.06" y="323.25" width="7.48" height="9.62" fill="#c50d2c" stroke="#efdcde" stroke-width="0.7"/>
<rect x="208.54" y="323.25" width="7.48" height="9.62" fill="#c50d2c" stroke="#efdcde" stroke-width="0.7"/>
<rect x="216.02" y="323.25" width="7.48" height="9.62" fill="#c50d2c" stroke="#efdcde" stroke-width="0.7"/>
<rect x="223.5" y="323.25" width="7.48" height="9.62" fill="#c50d2c" stroke="#efdcde" stroke-width="0.7"/>
<rect x="230.98" y="323.25" width="7.48" height="9.62" fill="#c50d2c" stroke="#efdcde" stroke-width="0.7"/>
<rect x="238.47" y="323.25" width="7.48" height="9.62" fill="#c50d2c" stroke="#efdcde" stroke-width="0.7"/>
<rect x="253.43" y="323.25" width="7.48" height="9.62" fill="#c50d2c" stroke="#efdcde" stroke-width="0.7"/>
<rect x="260.91" y="323.25" width="7.48" height="9.62" fill="#c50d2c" stroke="#efdcde" stroke-width="0.7"/>
<rect x="268.39" y="323.25" width="7.48" height="9.62" fill="#c50d2c" stroke="#efdcde" stroke-width="0.7"/>
<rect x="286.01" y="323.25" width="7.48" height="9.62" fill="#c50d2c" stroke="#efdcde" stroke-width="0.7"/>
<rect x="293.49" y="323.25" width="7.48" height="9.62" fill="#c50d2c" stroke="#efdcde" stroke-width="0.7"/>
<rect x="300.97" y="323.25" width="7.48" height="9.62" fill="#c50d2c" stroke="#efdcde" stroke-width="0.7"/>
<rect x="308.45" y="323.25" width="7.48" height="9.62" fill="#c50d2c" stroke="#efdcde" stroke-width="0.7"/>
<rect x="315.94" y="323.25" width="7.48" height="9.62" fill="#c50d2c" stroke="#efdcde" stroke-width="0.7"/>
<rect x="323.42" y="323.25" width="7.48" height="9.62" fill="#c50d2c" stroke="#efdcde" stroke-width="0.7"/>
<rect x="330.9" y="323.25" width="7.48" height="9.62" fill="#c50d2c" stroke="#efdcde" stroke-width="0.7"/>
<rect x="338.38" y="323.25" width="7.48" height="9.62" fill="#c50d2c" stroke="#efdcde" stroke-width="0.7"/>
<rect x="353.34" y="323.25" width="7.48" height="9.62" fill="#c50d2c" stroke="#efdcde" stroke-width="0.7"/>
<rect x="360.83" y="323.25" width="7.48" height="9.62" fill="#c50d2c" stroke="#efdcde" stroke-width="0.7"/>
<rect x="368.31" y="323.25" width="7.48" height="9.62" fill="#c50d2c" stroke="#efdcde" stroke-width="0.7"/>
<rect x="375.79" y="323.25" width="7.48" height="9.62" fill="#c50d2c" stroke="#efdcde" stroke-width="0.7"/>
<rect x="383.27" y="323.25" width="7.48" height="9.62" fill="#c50d2c" stroke="#efdcde" stroke-width="0.7"/>
<rect x="390.75" y="323.25" width="7.48" height="9.62" fill="#c50d2c" stroke="#efdcde" stroke-width="0.7"/>
<rect x="398.24" y="323.25" width="7.48" height="9.62" fill="#c50d2c" stroke="#efdcde" stroke-width="0.7"/>
<rect x="405.72" y="323.25" width="7.48" height="9.62" fill="#c50d2c" stroke="#efdcde" stroke-width="0.7"/>
<rect x="76.05" y="332.88" width="7.48" height="9.62" fill="#c50d2c" stroke="#efdcde" stroke-width="0.7"/>
<rect x="148.68" y="332.88" width="7.48" height="9.62" fill="#c50d2c" stroke="#efdcde" stroke-width="0.7"/>
<rect x="163.65" y="332.88" width="7.48" height="9.62" fill="#c50d2c" stroke="#efdcde" stroke-width="0.7"/>
<rect x="186.09" y="332.88" width="7.48" height="9.62" fill="#c50d2c" stroke="#efdcde" stroke-width="0.7"/>
<rect x="208.54" y="332.88" width="7.48" height="9.62" fill="#c50d2c" stroke="#efdcde" stroke-width="0.7"/>
<rect x="223.5" y="332.88" width="7.48" height="9.62" fill="#c50d2c" stroke="#efdcde" stroke-width="0.7"/>
<rect x="260.91" y="332.88" width="7.48" height="9.62" fill="#c50d2c" stroke="#efdcde" stroke-width="0.7"/>
<rect x="300.97" y="332.88" width="7.48" height="9.62" fill="#c50d2c" stroke="#efdcde" stroke-width="0.7"/>
<rect x="330.9" y="332.88" width="7.48" height="9.62" fill="#c50d2c" stroke="#efdcde" stroke-width="0.7"/>
<rect x="338.38" y="332.88" width="7.48" height="9.62" fill="#c50d2c" stroke="#efdcde" stroke-width="0.7"/>
<rect x="353.34" y="332.88" width="7.48" height="9.62" fill="#c50d2c" stroke="#efdcde" stroke-width="0.7"/>
<rect x="360.83" y="332.88" width="7.48" height="9.62" fill="#c50d2c" stroke="#efdcde" stroke-width="0.7"/>
<rect x="383.27" y="332.88" width="7.48" height="9.62" fill="#c50d2c" stroke="#efdcde" stroke-width="0.7"/>
<rect x="405.72" y="332.88" width="7.48" height="9.62" fill="#c50d2c" stroke="#efdcde" stroke-width="0.7"/>
<rect x="61.08" y="342.5" width="7.48" height="9.62" fill="#c50d2c" stroke="#efdcde" stroke-width="0.7"/>
<rect x="123.59" y="342.5" width="7.48" height="9.62" fill="#c50d2c" stroke="#efdcde" stroke-width="0.7"/>
<rect x="208.54" y="342.5" width="7.48" height="9.62" fill="#c50d2c" stroke="#efdcde" stroke-width="0.7"/>
<rect x="278.53" y="342.5" width="7.48" height="9.62" fill="#c50d2c" stroke="#efdcde" stroke-width="0.7"/>
<rect x="286.01" y="342.5" width="7.48" height="9.62" fill="#c50d2c" stroke="#efdcde" stroke-width="0.7"/>
<rect x="308.45" y="342.5" width="7.48" height="9.62" fill="#c50d2c" stroke="#efdcde" stroke-width="0.7"/>
<rect x="338.38" y="342.5" width="7.48" height="9.62" fill="#c50d2c" stroke="#efdcde" stroke-width="0.7"/>
<rect x="383.27" y="342.5" width="7.48" height="9.62" fill="#c50d2c" stroke="#efdcde" stroke-width="0.7"/>
<rect x="405.72" y="342.5" width="7.48" height="9.62" fill="#c50d2c" stroke="#efdcde" stroke-width="0.7"/>
<rect x="53.6" y="352.12" width="7.48" height="9.62" fill="#c50d2c" stroke="#efdcde" stroke-width="0.7"/>
<rect x="76.05" y="352.12" width="7.48" height="9.62" fill="#c50d2c" stroke="#efdcde" stroke-width="0.7"/>
<rect x="216.02" y="352.12" width="7.48" height="9.62" fill="#c50d2c" stroke="#efdcde" stroke-width="0.7"/>
<rect x="53.6" y="361.75" width="7.48" height="9.62" fill="#c50d2c" stroke="#efdcde" stroke-width="0.7"/>
<rect x="83.53" y="361.75" width="7.48" height="9.62" fill="#c50d2c" stroke="#efdcde" stroke-width="0.7"/>
<rect x="383.27" y="361.75" width="7.48" height="9.62" fill="#c50d2c" stroke="#efdcde" stroke-width="0.7"/>
<rect x="398.24" y="361.75" width="7.48" height="9.62" fill="#c50d2c" stroke="#efdcde" stroke-width="0.7"/>
<rect x="61.08" y="371.38" width="7.48" height="9.62" fill="#c50d2c" stroke="#efdcde" stroke-width="0.7"/>
<rect x="156.16" y="371.38" width="7.48" height="9.62" fill="#c50d2c" stroke="#efdcde" stroke-width="0.7"/>
<rect x="171.13" y="371.38" width="7.48" height="9.62" fill="#c50d2c" stroke="#efdcde" stroke-width="0.7"/>
<rect x="260.91" y="371.38" width="7.48" height="9.62" fill="#c50d2c" stroke="#efdcde" stroke-width="0.7"/>
<rect x="383.27" y="371.38" width="7.48" height="9.62" fill="#c50d2c" stroke="#efdcde" stroke-width="0.7"/>
<rect x="148.68" y="381" width="7.48" height="9.62" fill="#c50d2c" stroke="#efdcde" stroke-width="0.7"/>
<rect x="171.13" y="381" width="7.48" height="9.62" fill="#c50d2c" stroke="#efdcde" stroke-width="0.7"/>
<rect x="383.27" y="381" width="7.48" height="9.62" fill="#c50d2c" stroke="#efdcde" stroke-width="0.7"/>
<rect x="148.68" y="390.62" width="7.48" height="9.62" fill="#c50d2c" stroke="#efdcde" stroke-width="0.7"/>
<rect x="278.53" y="390.62" width="7.48" height="9.62" fill="#c50d2c" stroke="#efdcde" stroke-width="0.7"/>
<rect x="123.59" y="400.25" width="7.48" height="9.62" fill="#c50d2c" stroke="#efdcde" stroke-width="0.7"/>
<rect x="171.13" y="400.25" width="7.48" height="9.62" fill="#c50d2c" stroke="#efdcde" stroke-width="0.7"/>
<rect x="330.9" y="400.25" width="7.48" height="9.62" fill="#c50d2c" stroke="#efdcde" stroke-width="0.7"/>
<rect x="61.08" y="409.88" width="7.48" height="9.62" fill="#c50d2c" stroke="#efdcde" stroke-width="0.7"/>
<rect x="91.01" y="409.88" width="7.48" height="9.62" fill="#c50d2c" stroke="#efdcde" stroke-width="0.7"/>
<rect x="245.95" y="419.5" width="7.48" height="9.62" fill="#c50d2c" stroke="#efdcde" stroke-width="0.7"/>
<rect x="383.27" y="419.5" width="7.48" height="9.62" fill="#c50d2c" stroke="#efdcde" stroke-width="0.7"/>
<rect x="178.61" y="429.12" width="7.48" height="9.62" fill="#c50d2c" stroke="#efdcde" stroke-width="0.7"/>
<rect x="178.61" y="438.75" width="7.48" height="9.62" fill="#c50d2c" stroke="#efdcde" stroke-width="0.7"/>
<rect x="383.27" y="438.75" width="7.48" height="9.62" fill="#c50d2c" stroke="#efdcde" stroke-width="0.7"/>
<rect x="68.56" y="448.38" width="7.48" height="9.62" fill="#c50d2c" stroke="#efdcde" stroke-width="0.7"/>
<rect x="245.95" y="448.38" width="7.48" height="9.62" fill="#c50d2c" stroke="#efdcde" stroke-width="0.7"/>
<rect x="68.56" y="458" width="7.48" height="9.62" fill="#c50d2c" stroke="#efdcde" stroke-width="0.7"/>
<rect x="163.65" y="458" width="7.48" height="9.62" fill="#c50d2c" stroke="#efdcde" stroke-width="0.7"/>
<rect x="68.56" y="467.62" width="7.48" height="9.62" fill="#c50d2c" stroke="#efdcde" stroke-width="0.7"/>
<rect x="163.65" y="477.25" width="7.48" height="9.62" fill="#c50d2c" stroke="#efdcde" stroke-width="0.7"/>
<rect x="300.97" y="477.25" width="7.48" height="9.62" fill="#c50d2c" stroke="#efdcde" stroke-width="0.7"/>
<rect x="300.97" y="486.88" width="7.48" height="9.62" fill="#c50d2c" stroke="#efdcde" stroke-width="0.7"/>
<rect x="105.97" y="496.5" width="7.48" height="9.62" fill="#c50d2c" stroke="#efdcde" stroke-width="0.7"/>
<rect x="308.45" y="506.12" width="7.48" height="9.62" fill="#c50d2c" stroke="#efdcde" stroke-width="0.7"/>
<text x="415.5" y="313.4" font-size="6.25" font-weight="bold" fill="#111" stroke="#111" stroke-width="0.2">stage</text>
<text x="415.5" y="320.4" font-size="6.25" font-weight="bold" fill="#111" stroke="#111" stroke-width="0.2">assay</text>
<text x="415.5" y="330.21" font-size="6" fill="#2b2b2b" stroke="#2b2b2b" stroke-width="0.13">MYD88</text>
<text x="415.5" y="339.84" font-size="6" fill="#2b2b2b" stroke="#2b2b2b" stroke-width="0.13">CXCR4</text>
<text x="415.5" y="349.46" font-size="6" fill="#2b2b2b" stroke="#2b2b2b" stroke-width="0.13">ARID1A</text>
<text x="415.5" y="359.09" font-size="6" fill="#2b2b2b" stroke="#2b2b2b" stroke-width="0.13">IKZF1</text>
<text x="415.5" y="368.71" font-size="6" fill="#2b2b2b" stroke="#2b2b2b" stroke-width="0.13">POT1</text>
<text x="415.5" y="378.34" font-size="6" fill="#2b2b2b" stroke="#2b2b2b" stroke-width="0.13">BCOR</text>
<text x="415.5" y="387.96" font-size="6" fill="#2b2b2b" stroke="#2b2b2b" stroke-width="0.13">IKZF3</text>
<text x="415.5" y="397.59" font-size="6" fill="#2b2b2b" stroke="#2b2b2b" stroke-width="0.13">TRAF3</text>
<text x="415.5" y="407.21" font-size="6" fill="#2b2b2b" stroke="#2b2b2b" stroke-width="0.13">TP53</text>
<text x="415.5" y="416.84" font-size="6" fill="#2b2b2b" stroke="#2b2b2b" stroke-width="0.13">HIST1H1E</text>
<text x="415.5" y="426.46" font-size="6" fill="#2b2b2b" stroke="#2b2b2b" stroke-width="0.13">KMT2D</text>
<text x="415.5" y="436.09" font-size="6" fill="#2b2b2b" stroke="#2b2b2b" stroke-width="0.13">EZH2</text>
<text x="415.5" y="445.71" font-size="6" fill="#2b2b2b" stroke="#2b2b2b" stroke-width="0.13">PIM1</text>
<text x="415.5" y="455.34" font-size="6" fill="#2b2b2b" stroke="#2b2b2b" stroke-width="0.13">NOTCH2</text>
<text x="415.5" y="464.96" font-size="6" fill="#2b2b2b" stroke="#2b2b2b" stroke-width="0.13">CD79B</text>
<text x="415.5" y="474.59" font-size="6" fill="#2b2b2b" stroke="#2b2b2b" stroke-width="0.13">HIST1H1D</text>
<text x="415.5" y="484.21" font-size="6" fill="#2b2b2b" stroke="#2b2b2b" stroke-width="0.13">BIRC3</text>
<text x="415.5" y="493.84" font-size="6" fill="#2b2b2b" stroke="#2b2b2b" stroke-width="0.13">NOTCH3</text>
<text x="415.5" y="503.46" font-size="6" fill="#2b2b2b" stroke="#2b2b2b" stroke-width="0.13">CD79A</text>
<text x="415.5" y="513.09" font-size="6" fill="#2b2b2b" stroke="#2b2b2b" stroke-width="0.13">PRDM1</text>
<text transform="translate(59.29 518.8) rotate(-90)" font-size="5.5" text-anchor="end" textLength="33.6" lengthAdjust="spacingAndGlyphs" fill="#333" stroke="#333" stroke-width="0.15">ID_H197368</text>
<text transform="translate(66.77 518.8) rotate(-90)" font-size="5.5" text-anchor="end" textLength="33.6" lengthAdjust="spacingAndGlyphs" fill="#333" stroke="#333" stroke-width="0.15">ID_H197370</text>
<text transform="translate(74.25 518.8) rotate(-90)" font-size="5.5" text-anchor="end" textLength="33.6" lengthAdjust="spacingAndGlyphs" fill="#333" stroke="#333" stroke-width="0.15">ID_H197371</text>
<text transform="translate(81.74 518.8) rotate(-90)" font-size="5.5" text-anchor="end" textLength="33.6" lengthAdjust="spacingAndGlyphs" fill="#333" stroke="#333" stroke-width="0.15">ID_H197372</text>
<text transform="translate(89.22 518.8) rotate(-90)" font-size="5.5" text-anchor="end" textLength="33.6" lengthAdjust="spacingAndGlyphs" fill="#333" stroke="#333" stroke-width="0.15">ID_H197375</text>
<text transform="translate(96.7 518.8) rotate(-90)" font-size="5.5" text-anchor="end" textLength="33.6" lengthAdjust="spacingAndGlyphs" fill="#333" stroke="#333" stroke-width="0.15">ID_H201590</text>
<text transform="translate(104.18 518.8) rotate(-90)" font-size="5.5" text-anchor="end" textLength="29.6" lengthAdjust="spacingAndGlyphs" fill="#333" stroke="#333" stroke-width="0.15">P-0048645</text>
<text transform="translate(111.66 518.8) rotate(-90)" font-size="5.5" text-anchor="end" textLength="29.6" lengthAdjust="spacingAndGlyphs" fill="#333" stroke="#333" stroke-width="0.15">P-0052937</text>
<text transform="translate(119.15 518.8) rotate(-90)" font-size="5.5" text-anchor="end" textLength="29.6" lengthAdjust="spacingAndGlyphs" fill="#333" stroke="#333" stroke-width="0.15">P-0061538</text>
<text transform="translate(129.28 518.8) rotate(-90)" font-size="5.5" text-anchor="end" textLength="29.6" lengthAdjust="spacingAndGlyphs" fill="#333" stroke="#333" stroke-width="0.15">P-0053809</text>
<text transform="translate(136.76 518.8) rotate(-90)" font-size="5.5" text-anchor="end" textLength="29.6" lengthAdjust="spacingAndGlyphs" fill="#333" stroke="#333" stroke-width="0.15">P-0054209</text>
<text transform="translate(146.89 518.8) rotate(-90)" font-size="5.5" text-anchor="end" textLength="33.6" lengthAdjust="spacingAndGlyphs" fill="#333" stroke="#333" stroke-width="0.15">ID_H197369</text>
<text transform="translate(154.37 518.8) rotate(-90)" font-size="5.5" text-anchor="end" textLength="33.6" lengthAdjust="spacingAndGlyphs" fill="#333" stroke="#333" stroke-width="0.15">ID_H201589</text>
<text transform="translate(161.86 518.8) rotate(-90)" font-size="5.5" text-anchor="end" textLength="33.6" lengthAdjust="spacingAndGlyphs" fill="#333" stroke="#333" stroke-width="0.15">ID_H201591</text>
<text transform="translate(169.34 518.8) rotate(-90)" font-size="5.5" text-anchor="end" textLength="33.6" lengthAdjust="spacingAndGlyphs" fill="#333" stroke="#333" stroke-width="0.15">ID_H201592</text>
<text transform="translate(176.82 518.8) rotate(-90)" font-size="5.5" text-anchor="end" textLength="33.6" lengthAdjust="spacingAndGlyphs" fill="#333" stroke="#333" stroke-width="0.15">ID_H201593</text>
<text transform="translate(184.3 518.8) rotate(-90)" font-size="5.5" text-anchor="end" textLength="33.6" lengthAdjust="spacingAndGlyphs" fill="#333" stroke="#333" stroke-width="0.15">ID_H201594</text>
<text transform="translate(191.78 518.8) rotate(-90)" font-size="5.5" text-anchor="end" textLength="33.6" lengthAdjust="spacingAndGlyphs" fill="#333" stroke="#333" stroke-width="0.15">ID_H201595</text>
<text transform="translate(199.27 518.8) rotate(-90)" font-size="5.5" text-anchor="end" textLength="29.6" lengthAdjust="spacingAndGlyphs" fill="#333" stroke="#333" stroke-width="0.15">P-0038768</text>
<text transform="translate(206.75 518.8) rotate(-90)" font-size="5.5" text-anchor="end" textLength="29.6" lengthAdjust="spacingAndGlyphs" fill="#333" stroke="#333" stroke-width="0.15">P-0040481</text>
<text transform="translate(214.23 518.8) rotate(-90)" font-size="5.5" text-anchor="end" textLength="29.6" lengthAdjust="spacingAndGlyphs" fill="#333" stroke="#333" stroke-width="0.15">P-0043259</text>
<text transform="translate(221.71 518.8) rotate(-90)" font-size="5.5" text-anchor="end" textLength="29.6" lengthAdjust="spacingAndGlyphs" fill="#333" stroke="#333" stroke-width="0.15">P-0044632</text>
<text transform="translate(229.19 518.8) rotate(-90)" font-size="5.5" text-anchor="end" textLength="29.6" lengthAdjust="spacingAndGlyphs" fill="#333" stroke="#333" stroke-width="0.15">P-0045608</text>
<text transform="translate(236.68 518.8) rotate(-90)" font-size="5.5" text-anchor="end" textLength="29.6" lengthAdjust="spacingAndGlyphs" fill="#333" stroke="#333" stroke-width="0.15">P-0049645</text>
<text transform="translate(244.16 518.8) rotate(-90)" font-size="5.5" text-anchor="end" textLength="29.6" lengthAdjust="spacingAndGlyphs" fill="#333" stroke="#333" stroke-width="0.15">P-0051318</text>
<text transform="translate(251.64 518.8) rotate(-90)" font-size="5.5" text-anchor="end" textLength="29.6" lengthAdjust="spacingAndGlyphs" fill="#333" stroke="#333" stroke-width="0.15">P-0052182</text>
<text transform="translate(259.12 518.8) rotate(-90)" font-size="5.5" text-anchor="end" textLength="29.6" lengthAdjust="spacingAndGlyphs" fill="#333" stroke="#333" stroke-width="0.15">P-0056253</text>
<text transform="translate(266.6 518.8) rotate(-90)" font-size="5.5" text-anchor="end" textLength="29.6" lengthAdjust="spacingAndGlyphs" fill="#333" stroke="#333" stroke-width="0.15">P-0060322</text>
<text transform="translate(274.08 518.8) rotate(-90)" font-size="5.5" text-anchor="end" textLength="29.6" lengthAdjust="spacingAndGlyphs" fill="#333" stroke="#333" stroke-width="0.15">P-0076102</text>
<text transform="translate(284.22 518.8) rotate(-90)" font-size="5.5" text-anchor="end" textLength="33.6" lengthAdjust="spacingAndGlyphs" fill="#333" stroke="#333" stroke-width="0.15">ID_H197362</text>
<text transform="translate(291.7 518.8) rotate(-90)" font-size="5.5" text-anchor="end" textLength="29.6" lengthAdjust="spacingAndGlyphs" fill="#333" stroke="#333" stroke-width="0.15">P-0003309</text>
<text transform="translate(299.18 518.8) rotate(-90)" font-size="5.5" text-anchor="end" textLength="29.6" lengthAdjust="spacingAndGlyphs" fill="#333" stroke="#333" stroke-width="0.15">P-0020391</text>
<text transform="translate(306.66 518.8) rotate(-90)" font-size="5.5" text-anchor="end" textLength="29.6" lengthAdjust="spacingAndGlyphs" fill="#333" stroke="#333" stroke-width="0.15">P-0025184</text>
<text transform="translate(314.14 518.8) rotate(-90)" font-size="5.5" text-anchor="end" textLength="29.6" lengthAdjust="spacingAndGlyphs" fill="#333" stroke="#333" stroke-width="0.15">P-0030742</text>
<text transform="translate(321.63 518.8) rotate(-90)" font-size="5.5" text-anchor="end" textLength="29.6" lengthAdjust="spacingAndGlyphs" fill="#333" stroke="#333" stroke-width="0.15">P-0034073</text>
<text transform="translate(329.11 518.8) rotate(-90)" font-size="5.5" text-anchor="end" textLength="29.6" lengthAdjust="spacingAndGlyphs" fill="#333" stroke="#333" stroke-width="0.15">P-0037200</text>
<text transform="translate(336.59 518.8) rotate(-90)" font-size="5.5" text-anchor="end" textLength="29.6" lengthAdjust="spacingAndGlyphs" fill="#333" stroke="#333" stroke-width="0.15">P-0043083</text>
<text transform="translate(344.07 518.8) rotate(-90)" font-size="5.5" text-anchor="end" textLength="29.6" lengthAdjust="spacingAndGlyphs" fill="#333" stroke="#333" stroke-width="0.15">P-0044892</text>
<text transform="translate(351.55 518.8) rotate(-90)" font-size="5.5" text-anchor="end" textLength="29.6" lengthAdjust="spacingAndGlyphs" fill="#333" stroke="#333" stroke-width="0.15">P-0046630</text>
<text transform="translate(359.04 518.8) rotate(-90)" font-size="5.5" text-anchor="end" textLength="29.6" lengthAdjust="spacingAndGlyphs" fill="#333" stroke="#333" stroke-width="0.15">P-0047299</text>
<text transform="translate(366.52 518.8) rotate(-90)" font-size="5.5" text-anchor="end" textLength="29.6" lengthAdjust="spacingAndGlyphs" fill="#333" stroke="#333" stroke-width="0.15">P-0050159</text>
<text transform="translate(374 518.8) rotate(-90)" font-size="5.5" text-anchor="end" textLength="29.6" lengthAdjust="spacingAndGlyphs" fill="#333" stroke="#333" stroke-width="0.15">P-0053181</text>
<text transform="translate(381.48 518.8) rotate(-90)" font-size="5.5" text-anchor="end" textLength="29.6" lengthAdjust="spacingAndGlyphs" fill="#333" stroke="#333" stroke-width="0.15">P-0057625</text>
<text transform="translate(388.96 518.8) rotate(-90)" font-size="5.5" text-anchor="end" textLength="29.6" lengthAdjust="spacingAndGlyphs" fill="#333" stroke="#333" stroke-width="0.15">P-0057658</text>
<text transform="translate(396.45 518.8) rotate(-90)" font-size="5.5" text-anchor="end" textLength="29.6" lengthAdjust="spacingAndGlyphs" fill="#333" stroke="#333" stroke-width="0.15">P-0068906</text>
<text transform="translate(403.93 518.8) rotate(-90)" font-size="5.5" text-anchor="end" textLength="29.6" lengthAdjust="spacingAndGlyphs" fill="#333" stroke="#333" stroke-width="0.15">P-0070458</text>
<text transform="translate(411.41 518.8) rotate(-90)" font-size="5.5" text-anchor="end" textLength="29.6" lengthAdjust="spacingAndGlyphs" fill="#333" stroke="#333" stroke-width="0.15">P-0077233</text>
<text x="447.8" y="311.25" font-size="6.25" font-weight="bold" fill="#111" stroke="#111" stroke-width="0.2">stage</text>
<rect x="447.8" y="314.1" width="8.2" height="8.2" fill="#32a9df" stroke="#e9e4da" stroke-width="0.4"/>
<text x="457.8" y="319.95" font-size="5.75" fill="#2b2b2b" stroke="#2b2b2b" stroke-width="0.13">stable_precursor</text>
<rect x="447.8" y="322.3" width="8.2" height="8.2" fill="#f8bd14" stroke="#e9e4da" stroke-width="0.4"/>
<text x="457.8" y="328.15" font-size="5.75" fill="#2b2b2b" stroke="#2b2b2b" stroke-width="0.13">progressive_precursor</text>
<rect x="447.8" y="330.5" width="8.2" height="8.2" fill="#c06b1b" stroke="#e9e4da" stroke-width="0.4"/>
<text x="457.8" y="336.35" font-size="5.75" fill="#2b2b2b" stroke="#2b2b2b" stroke-width="0.13">WM_pretreatment</text>
<rect x="447.8" y="338.7" width="8.2" height="8.2" fill="#c30e2c" stroke="#e9e4da" stroke-width="0.4"/>
<text x="457.8" y="344.55" font-size="5.75" fill="#2b2b2b" stroke="#2b2b2b" stroke-width="0.13">WM_treated</text>
<text x="447.8" y="357.35" font-size="6.25" font-weight="bold" fill="#111" stroke="#111" stroke-width="0.2">assay</text>
<rect x="447.8" y="360.2" width="8.2" height="8.2" fill="#066c50" stroke="#e9e4da" stroke-width="0.4"/>
<text x="457.8" y="365.9" font-size="5.75" fill="#2b2b2b" stroke="#2b2b2b" stroke-width="0.13">WGS</text>
<rect x="447.8" y="368.4" width="8.2" height="8.2" fill="#acc388" stroke="#e9e4da" stroke-width="0.4"/>
<text x="457.8" y="374.1" font-size="5.75" fill="#2b2b2b" stroke="#2b2b2b" stroke-width="0.13">MSK_IMPACT</text>
<path d="M23.4 328.06L53.5 328.06M23.4 328.06L23.4 349.5M23.4 349.5L34.7 349.5M34.7 337.69L34.7 361.4M34.7 337.69L53.5 337.69M34.7 361.4L37.7 361.4M37.7 347.31L37.7 376.19M37.7 347.31L53.5 347.31M37.7 376.19L53.5 376.19M40.6 361.7L40.6 390.4M40.6 361.7L43.4 361.7M43.4 356.94L43.4 366.56M43.4 356.94L53.5 356.94M43.4 366.56L53.5 366.56M41.2 376.19L41.2 405.06M40.6 390.4L41.2 390.4M41.2 405.06L53.5 405.06M43.4 390.6L43.4 434.5M43.4 390.6L45.4 390.6M45.4 385.81L45.4 395.44M45.4 385.81L53.5 385.81M45.4 395.44L53.5 395.44M43.9 414.69L53.5 414.69M44.6 414.69L44.6 496.6M44.6 424.31L53.5 424.31M44.6 438.3L49 438.3M49 433.94L49 443.56M49 433.94L53.5 433.94M49 443.56L53.5 443.56M44.6 460.4L47.1 460.4M47.1 453.19L47.1 467.6M47.1 453.19L53.5 453.19M47.1 467.6L49 467.6M49 462.81L49 472.44M49 462.81L53.5 462.81M49 472.44L53.5 472.44M44.6 496.6L45.3 496.6M45.3 486.9L45.3 506.3M45.3 486.9L49 486.9M49 482.06L49 491.69M49 482.06L53.5 482.06M49 491.69L53.5 491.69M45.3 506.3L47.1 506.3M47.1 501.31L47.1 510.94M47.1 501.31L53.5 501.31M47.1 510.94L53.5 510.94" stroke="#3a3a3a" stroke-width="0.7" fill="none" stroke-linecap="square"/>
<rect x="51.6" y="590.3" width="7.52" height="5.6" fill="#32a9df" stroke="#fff" stroke-opacity="0.55" stroke-width="0.35"/>
<rect x="51.6" y="597.7" width="7.52" height="5.4" fill="#066c50" stroke="#fff" stroke-opacity="0.55" stroke-width="0.35"/>
<rect x="59.12" y="590.3" width="7.52" height="5.6" fill="#32a9df" stroke="#fff" stroke-opacity="0.55" stroke-width="0.35"/>
<rect x="59.12" y="597.7" width="7.52" height="5.4" fill="#066c50" stroke="#fff" stroke-opacity="0.55" stroke-width="0.35"/>
<rect x="66.64" y="590.3" width="7.52" height="5.6" fill="#32a9df" stroke="#fff" stroke-opacity="0.55" stroke-width="0.35"/>
<rect x="66.64" y="597.7" width="7.52" height="5.4" fill="#066c50" stroke="#fff" stroke-opacity="0.55" stroke-width="0.35"/>
<rect x="74.16" y="590.3" width="7.52" height="5.6" fill="#32a9df" stroke="#fff" stroke-opacity="0.55" stroke-width="0.35"/>
<rect x="74.16" y="597.7" width="7.52" height="5.4" fill="#066c50" stroke="#fff" stroke-opacity="0.55" stroke-width="0.35"/>
<rect x="81.68" y="590.3" width="7.52" height="5.6" fill="#32a9df" stroke="#fff" stroke-opacity="0.55" stroke-width="0.35"/>
<rect x="81.68" y="597.7" width="7.52" height="5.4" fill="#066c50" stroke="#fff" stroke-opacity="0.55" stroke-width="0.35"/>
<rect x="89.2" y="590.3" width="7.52" height="5.6" fill="#32a9df" stroke="#fff" stroke-opacity="0.55" stroke-width="0.35"/>
<rect x="89.2" y="597.7" width="7.52" height="5.4" fill="#066c50" stroke="#fff" stroke-opacity="0.55" stroke-width="0.35"/>
<rect x="96.72" y="590.3" width="7.52" height="5.6" fill="#32a9df" stroke="#fff" stroke-opacity="0.55" stroke-width="0.35"/>
<rect x="96.72" y="597.7" width="7.52" height="5.4" fill="#acc388" stroke="#fff" stroke-opacity="0.55" stroke-width="0.35"/>
<rect x="104.24" y="590.3" width="7.52" height="5.6" fill="#32a9df" stroke="#fff" stroke-opacity="0.55" stroke-width="0.35"/>
<rect x="104.24" y="597.7" width="7.52" height="5.4" fill="#acc388" stroke="#fff" stroke-opacity="0.55" stroke-width="0.35"/>
<rect x="111.76" y="590.3" width="7.52" height="5.6" fill="#32a9df" stroke="#fff" stroke-opacity="0.55" stroke-width="0.35"/>
<rect x="111.76" y="597.7" width="7.52" height="5.4" fill="#acc388" stroke="#fff" stroke-opacity="0.55" stroke-width="0.35"/>
<rect x="121.93" y="590.3" width="7.52" height="5.6" fill="#f8bd14" stroke="#fff" stroke-opacity="0.55" stroke-width="0.35"/>
<rect x="121.93" y="597.7" width="7.52" height="5.4" fill="#acc388" stroke="#fff" stroke-opacity="0.55" stroke-width="0.35"/>
<rect x="129.45" y="590.3" width="7.52" height="5.6" fill="#f8bd14" stroke="#fff" stroke-opacity="0.55" stroke-width="0.35"/>
<rect x="129.45" y="597.7" width="7.52" height="5.4" fill="#acc388" stroke="#fff" stroke-opacity="0.55" stroke-width="0.35"/>
<rect x="139.62" y="590.3" width="7.52" height="5.6" fill="#c06b1b" stroke="#fff" stroke-opacity="0.55" stroke-width="0.35"/>
<rect x="139.62" y="597.7" width="7.52" height="5.4" fill="#066c50" stroke="#fff" stroke-opacity="0.55" stroke-width="0.35"/>
<rect x="147.14" y="590.3" width="7.52" height="5.6" fill="#c06b1b" stroke="#fff" stroke-opacity="0.55" stroke-width="0.35"/>
<rect x="147.14" y="597.7" width="7.52" height="5.4" fill="#066c50" stroke="#fff" stroke-opacity="0.55" stroke-width="0.35"/>
<rect x="154.66" y="590.3" width="7.52" height="5.6" fill="#c06b1b" stroke="#fff" stroke-opacity="0.55" stroke-width="0.35"/>
<rect x="154.66" y="597.7" width="7.52" height="5.4" fill="#066c50" stroke="#fff" stroke-opacity="0.55" stroke-width="0.35"/>
<rect x="162.18" y="590.3" width="7.52" height="5.6" fill="#c06b1b" stroke="#fff" stroke-opacity="0.55" stroke-width="0.35"/>
<rect x="162.18" y="597.7" width="7.52" height="5.4" fill="#066c50" stroke="#fff" stroke-opacity="0.55" stroke-width="0.35"/>
<rect x="169.7" y="590.3" width="7.52" height="5.6" fill="#c06b1b" stroke="#fff" stroke-opacity="0.55" stroke-width="0.35"/>
<rect x="169.7" y="597.7" width="7.52" height="5.4" fill="#066c50" stroke="#fff" stroke-opacity="0.55" stroke-width="0.35"/>
<rect x="177.22" y="590.3" width="7.52" height="5.6" fill="#c06b1b" stroke="#fff" stroke-opacity="0.55" stroke-width="0.35"/>
<rect x="177.22" y="597.7" width="7.52" height="5.4" fill="#066c50" stroke="#fff" stroke-opacity="0.55" stroke-width="0.35"/>
<rect x="184.74" y="590.3" width="7.52" height="5.6" fill="#c06b1b" stroke="#fff" stroke-opacity="0.55" stroke-width="0.35"/>
<rect x="184.74" y="597.7" width="7.52" height="5.4" fill="#066c50" stroke="#fff" stroke-opacity="0.55" stroke-width="0.35"/>
<rect x="192.26" y="590.3" width="7.52" height="5.6" fill="#c06b1b" stroke="#fff" stroke-opacity="0.55" stroke-width="0.35"/>
<rect x="192.26" y="597.7" width="7.52" height="5.4" fill="#acc388" stroke="#fff" stroke-opacity="0.55" stroke-width="0.35"/>
<rect x="199.78" y="590.3" width="7.52" height="5.6" fill="#c06b1b" stroke="#fff" stroke-opacity="0.55" stroke-width="0.35"/>
<rect x="199.78" y="597.7" width="7.52" height="5.4" fill="#acc388" stroke="#fff" stroke-opacity="0.55" stroke-width="0.35"/>
<rect x="207.3" y="590.3" width="7.52" height="5.6" fill="#c06b1b" stroke="#fff" stroke-opacity="0.55" stroke-width="0.35"/>
<rect x="207.3" y="597.7" width="7.52" height="5.4" fill="#acc388" stroke="#fff" stroke-opacity="0.55" stroke-width="0.35"/>
<rect x="214.82" y="590.3" width="7.52" height="5.6" fill="#c06b1b" stroke="#fff" stroke-opacity="0.55" stroke-width="0.35"/>
<rect x="214.82" y="597.7" width="7.52" height="5.4" fill="#acc388" stroke="#fff" stroke-opacity="0.55" stroke-width="0.35"/>
<rect x="222.34" y="590.3" width="7.52" height="5.6" fill="#c06b1b" stroke="#fff" stroke-opacity="0.55" stroke-width="0.35"/>
<rect x="222.34" y="597.7" width="7.52" height="5.4" fill="#acc388" stroke="#fff" stroke-opacity="0.55" stroke-width="0.35"/>
<rect x="229.86" y="590.3" width="7.52" height="5.6" fill="#c06b1b" stroke="#fff" stroke-opacity="0.55" stroke-width="0.35"/>
<rect x="229.86" y="597.7" width="7.52" height="5.4" fill="#acc388" stroke="#fff" stroke-opacity="0.55" stroke-width="0.35"/>
<rect x="237.39" y="590.3" width="7.52" height="5.6" fill="#c06b1b" stroke="#fff" stroke-opacity="0.55" stroke-width="0.35"/>
<rect x="237.39" y="597.7" width="7.52" height="5.4" fill="#acc388" stroke="#fff" stroke-opacity="0.55" stroke-width="0.35"/>
<rect x="244.91" y="590.3" width="7.52" height="5.6" fill="#c06b1b" stroke="#fff" stroke-opacity="0.55" stroke-width="0.35"/>
<rect x="244.91" y="597.7" width="7.52" height="5.4" fill="#acc388" stroke="#fff" stroke-opacity="0.55" stroke-width="0.35"/>
<rect x="252.43" y="590.3" width="7.52" height="5.6" fill="#c06b1b" stroke="#fff" stroke-opacity="0.55" stroke-width="0.35"/>
<rect x="252.43" y="597.7" width="7.52" height="5.4" fill="#acc388" stroke="#fff" stroke-opacity="0.55" stroke-width="0.35"/>
<rect x="259.95" y="590.3" width="7.52" height="5.6" fill="#c06b1b" stroke="#fff" stroke-opacity="0.55" stroke-width="0.35"/>
<rect x="259.95" y="597.7" width="7.52" height="5.4" fill="#acc388" stroke="#fff" stroke-opacity="0.55" stroke-width="0.35"/>
<rect x="267.47" y="590.3" width="7.52" height="5.6" fill="#c06b1b" stroke="#fff" stroke-opacity="0.55" stroke-width="0.35"/>
<rect x="267.47" y="597.7" width="7.52" height="5.4" fill="#acc388" stroke="#fff" stroke-opacity="0.55" stroke-width="0.35"/>
<rect x="277.64" y="590.3" width="7.52" height="5.6" fill="#c30e2c" stroke="#fff" stroke-opacity="0.55" stroke-width="0.35"/>
<rect x="277.64" y="597.7" width="7.52" height="5.4" fill="#066c50" stroke="#fff" stroke-opacity="0.55" stroke-width="0.35"/>
<rect x="285.16" y="590.3" width="7.52" height="5.6" fill="#c30e2c" stroke="#fff" stroke-opacity="0.55" stroke-width="0.35"/>
<rect x="285.16" y="597.7" width="7.52" height="5.4" fill="#acc388" stroke="#fff" stroke-opacity="0.55" stroke-width="0.35"/>
<rect x="292.68" y="590.3" width="7.52" height="5.6" fill="#c30e2c" stroke="#fff" stroke-opacity="0.55" stroke-width="0.35"/>
<rect x="292.68" y="597.7" width="7.52" height="5.4" fill="#acc388" stroke="#fff" stroke-opacity="0.55" stroke-width="0.35"/>
<rect x="300.2" y="590.3" width="7.52" height="5.6" fill="#c30e2c" stroke="#fff" stroke-opacity="0.55" stroke-width="0.35"/>
<rect x="300.2" y="597.7" width="7.52" height="5.4" fill="#acc388" stroke="#fff" stroke-opacity="0.55" stroke-width="0.35"/>
<rect x="307.72" y="590.3" width="7.52" height="5.6" fill="#c30e2c" stroke="#fff" stroke-opacity="0.55" stroke-width="0.35"/>
<rect x="307.72" y="597.7" width="7.52" height="5.4" fill="#acc388" stroke="#fff" stroke-opacity="0.55" stroke-width="0.35"/>
<rect x="315.24" y="590.3" width="7.52" height="5.6" fill="#c30e2c" stroke="#fff" stroke-opacity="0.55" stroke-width="0.35"/>
<rect x="315.24" y="597.7" width="7.52" height="5.4" fill="#acc388" stroke="#fff" stroke-opacity="0.55" stroke-width="0.35"/>
<rect x="322.76" y="590.3" width="7.52" height="5.6" fill="#c30e2c" stroke="#fff" stroke-opacity="0.55" stroke-width="0.35"/>
<rect x="322.76" y="597.7" width="7.52" height="5.4" fill="#acc388" stroke="#fff" stroke-opacity="0.55" stroke-width="0.35"/>
<rect x="330.28" y="590.3" width="7.52" height="5.6" fill="#c30e2c" stroke="#fff" stroke-opacity="0.55" stroke-width="0.35"/>
<rect x="330.28" y="597.7" width="7.52" height="5.4" fill="#acc388" stroke="#fff" stroke-opacity="0.55" stroke-width="0.35"/>
<rect x="337.8" y="590.3" width="7.52" height="5.6" fill="#c30e2c" stroke="#fff" stroke-opacity="0.55" stroke-width="0.35"/>
<rect x="337.8" y="597.7" width="7.52" height="5.4" fill="#acc388" stroke="#fff" stroke-opacity="0.55" stroke-width="0.35"/>
<rect x="345.32" y="590.3" width="7.52" height="5.6" fill="#c30e2c" stroke="#fff" stroke-opacity="0.55" stroke-width="0.35"/>
<rect x="345.32" y="597.7" width="7.52" height="5.4" fill="#acc388" stroke="#fff" stroke-opacity="0.55" stroke-width="0.35"/>
<rect x="352.84" y="590.3" width="7.52" height="5.6" fill="#c30e2c" stroke="#fff" stroke-opacity="0.55" stroke-width="0.35"/>
<rect x="352.84" y="597.7" width="7.52" height="5.4" fill="#acc388" stroke="#fff" stroke-opacity="0.55" stroke-width="0.35"/>
<rect x="360.36" y="590.3" width="7.52" height="5.6" fill="#c30e2c" stroke="#fff" stroke-opacity="0.55" stroke-width="0.35"/>
<rect x="360.36" y="597.7" width="7.52" height="5.4" fill="#acc388" stroke="#fff" stroke-opacity="0.55" stroke-width="0.35"/>
<rect x="367.88" y="590.3" width="7.52" height="5.6" fill="#c30e2c" stroke="#fff" stroke-opacity="0.55" stroke-width="0.35"/>
<rect x="367.88" y="597.7" width="7.52" height="5.4" fill="#acc388" stroke="#fff" stroke-opacity="0.55" stroke-width="0.35"/>
<rect x="375.4" y="590.3" width="7.52" height="5.6" fill="#c30e2c" stroke="#fff" stroke-opacity="0.55" stroke-width="0.35"/>
<rect x="375.4" y="597.7" width="7.52" height="5.4" fill="#acc388" stroke="#fff" stroke-opacity="0.55" stroke-width="0.35"/>
<rect x="382.92" y="590.3" width="7.52" height="5.6" fill="#c30e2c" stroke="#fff" stroke-opacity="0.55" stroke-width="0.35"/>
<rect x="382.92" y="597.7" width="7.52" height="5.4" fill="#acc388" stroke="#fff" stroke-opacity="0.55" stroke-width="0.35"/>
<rect x="390.44" y="590.3" width="7.52" height="5.6" fill="#c30e2c" stroke="#fff" stroke-opacity="0.55" stroke-width="0.35"/>
<rect x="390.44" y="597.7" width="7.52" height="5.4" fill="#acc388" stroke="#fff" stroke-opacity="0.55" stroke-width="0.35"/>
<rect x="397.96" y="590.3" width="7.52" height="5.6" fill="#c30e2c" stroke="#fff" stroke-opacity="0.55" stroke-width="0.35"/>
<rect x="397.96" y="597.7" width="7.52" height="5.4" fill="#acc388" stroke="#fff" stroke-opacity="0.55" stroke-width="0.35"/>
<rect x="405.48" y="590.3" width="7.52" height="5.6" fill="#c30e2c" stroke="#fff" stroke-opacity="0.55" stroke-width="0.35"/>
<rect x="405.48" y="597.7" width="7.52" height="5.4" fill="#acc388" stroke="#fff" stroke-opacity="0.55" stroke-width="0.35"/>
<rect x="51.6" y="605" width="67.68" height="68.5" fill="#fff" stroke="#d1d1d1" stroke-width="0.7"/>
<path d="M59.12 605V673.5M66.64 605V673.5M74.16 605V673.5M81.68 605V673.5M89.2 605V673.5M96.72 605V673.5M104.24 605V673.5M111.76 605V673.5M51.6 612.61H119.28M51.6 620.22H119.28M51.6 627.83H119.28M51.6 635.44H119.28M51.6 643.06H119.28M51.6 650.67H119.28M51.6 658.28H119.28M51.6 665.89H119.28" stroke="#d1d1d1" stroke-width="0.7" fill="none"/>
<rect x="121.93" y="605" width="15.04" height="68.5" fill="#fff" stroke="#d1d1d1" stroke-width="0.7"/>
<path d="M129.45 605V673.5M121.93 612.61H136.97M121.93 620.22H136.97M121.93 627.83H136.97M121.93 635.44H136.97M121.93 643.06H136.97M121.93 650.67H136.97M121.93 658.28H136.97M121.93 665.89H136.97" stroke="#d1d1d1" stroke-width="0.7" fill="none"/>
<rect x="139.62" y="605" width="135.36" height="68.5" fill="#fff" stroke="#d1d1d1" stroke-width="0.7"/>
<path d="M147.14 605V673.5M154.66 605V673.5M162.18 605V673.5M169.7 605V673.5M177.22 605V673.5M184.74 605V673.5M192.26 605V673.5M199.78 605V673.5M207.3 605V673.5M214.82 605V673.5M222.34 605V673.5M229.86 605V673.5M237.39 605V673.5M244.91 605V673.5M252.43 605V673.5M259.95 605V673.5M267.47 605V673.5M139.62 612.61H274.99M139.62 620.22H274.99M139.62 627.83H274.99M139.62 635.44H274.99M139.62 643.06H274.99M139.62 650.67H274.99M139.62 658.28H274.99M139.62 665.89H274.99" stroke="#d1d1d1" stroke-width="0.7" fill="none"/>
<rect x="277.64" y="605" width="135.36" height="68.5" fill="#fff" stroke="#d1d1d1" stroke-width="0.7"/>
<path d="M285.16 605V673.5M292.68 605V673.5M300.2 605V673.5M307.72 605V673.5M315.24 605V673.5M322.76 605V673.5M330.28 605V673.5M337.8 605V673.5M345.32 605V673.5M352.84 605V673.5M360.36 605V673.5M367.88 605V673.5M375.4 605V673.5M382.92 605V673.5M390.44 605V673.5M397.96 605V673.5M405.48 605V673.5M277.64 612.61H413M277.64 620.22H413M277.64 627.83H413M277.64 635.44H413M277.64 643.06H413M277.64 650.67H413M277.64 658.28H413M277.64 665.89H413" stroke="#d1d1d1" stroke-width="0.7" fill="none"/>
<rect x="154.66" y="605" width="7.52" height="7.61" fill="#c50d2c" stroke="#efdcde" stroke-width="0.7"/>
<rect x="192.26" y="605" width="7.52" height="7.61" fill="#c50d2c" stroke="#efdcde" stroke-width="0.7"/>
<rect x="252.43" y="605" width="7.52" height="7.61" fill="#c50d2c" stroke="#efdcde" stroke-width="0.7"/>
<rect x="277.64" y="605" width="7.52" height="7.61" fill="#c50d2c" stroke="#efdcde" stroke-width="0.7"/>
<rect x="300.2" y="605" width="7.52" height="7.61" fill="#c50d2c" stroke="#efdcde" stroke-width="0.7"/>
<rect x="337.8" y="605" width="7.52" height="7.61" fill="#c50d2c" stroke="#efdcde" stroke-width="0.7"/>
<rect x="367.88" y="605" width="7.52" height="7.61" fill="#c50d2c" stroke="#efdcde" stroke-width="0.7"/>
<rect x="129.45" y="612.61" width="7.52" height="7.61" fill="#c50d2c" stroke="#efdcde" stroke-width="0.7"/>
<rect x="177.22" y="612.61" width="7.52" height="7.61" fill="#c50d2c" stroke="#efdcde" stroke-width="0.7"/>
<rect x="277.64" y="612.61" width="7.52" height="7.61" fill="#c50d2c" stroke="#efdcde" stroke-width="0.7"/>
<rect x="330.28" y="612.61" width="7.52" height="7.61" fill="#c50d2c" stroke="#efdcde" stroke-width="0.7"/>
<rect x="352.84" y="612.61" width="7.52" height="7.61" fill="#c50d2c" stroke="#efdcde" stroke-width="0.7"/>
<rect x="315.24" y="620.22" width="7.52" height="7.61" fill="#c50d2c" stroke="#efdcde" stroke-width="0.7"/>
<rect x="330.28" y="620.22" width="7.52" height="7.61" fill="#c50d2c" stroke="#efdcde" stroke-width="0.7"/>
<rect x="337.8" y="620.22" width="7.52" height="7.61" fill="#c50d2c" stroke="#efdcde" stroke-width="0.7"/>
<rect x="367.88" y="620.22" width="7.52" height="7.61" fill="#c50d2c" stroke="#efdcde" stroke-width="0.7"/>
<rect x="397.96" y="620.22" width="7.52" height="7.61" fill="#c50d2c" stroke="#efdcde" stroke-width="0.7"/>
<rect x="139.62" y="627.83" width="7.52" height="7.61" fill="#c50d2c" stroke="#efdcde" stroke-width="0.7"/>
<rect x="147.14" y="627.83" width="7.52" height="7.61" fill="#c50d2c" stroke="#efdcde" stroke-width="0.7"/>
<rect x="169.7" y="627.83" width="7.52" height="7.61" fill="#c50d2c" stroke="#efdcde" stroke-width="0.7"/>
<rect x="192.26" y="635.44" width="7.52" height="7.61" fill="#c50d2c" stroke="#efdcde" stroke-width="0.7"/>
<rect x="207.3" y="635.44" width="7.52" height="7.61" fill="#c50d2c" stroke="#efdcde" stroke-width="0.7"/>
<rect x="330.28" y="635.44" width="7.52" height="7.61" fill="#c50d2c" stroke="#efdcde" stroke-width="0.7"/>
<rect x="129.45" y="643.06" width="7.52" height="7.61" fill="#c50d2c" stroke="#efdcde" stroke-width="0.7"/>
<rect x="169.7" y="643.06" width="7.52" height="7.61" fill="#c50d2c" stroke="#efdcde" stroke-width="0.7"/>
<rect x="192.26" y="643.06" width="7.52" height="7.61" fill="#c50d2c" stroke="#efdcde" stroke-width="0.7"/>
<rect x="237.39" y="643.06" width="7.52" height="7.61" fill="#c50d2c" stroke="#efdcde" stroke-width="0.7"/>
<rect x="300.2" y="643.06" width="7.52" height="7.61" fill="#c50d2c" stroke="#efdcde" stroke-width="0.7"/>
<rect x="307.72" y="643.06" width="7.52" height="7.61" fill="#c50d2c" stroke="#efdcde" stroke-width="0.7"/>
<rect x="315.24" y="643.06" width="7.52" height="7.61" fill="#c50d2c" stroke="#efdcde" stroke-width="0.7"/>
<rect x="330.28" y="643.06" width="7.52" height="7.61" fill="#c50d2c" stroke="#efdcde" stroke-width="0.7"/>
<rect x="360.36" y="643.06" width="7.52" height="7.61" fill="#c50d2c" stroke="#efdcde" stroke-width="0.7"/>
<rect x="382.92" y="643.06" width="7.52" height="7.61" fill="#c50d2c" stroke="#efdcde" stroke-width="0.7"/>
<rect x="390.44" y="643.06" width="7.52" height="7.61" fill="#c50d2c" stroke="#efdcde" stroke-width="0.7"/>
<rect x="397.96" y="643.06" width="7.52" height="7.61" fill="#c50d2c" stroke="#efdcde" stroke-width="0.7"/>
<rect x="121.93" y="650.67" width="7.52" height="7.61" fill="#c50d2c" stroke="#efdcde" stroke-width="0.7"/>
<rect x="129.45" y="650.67" width="7.52" height="7.61" fill="#c50d2c" stroke="#efdcde" stroke-width="0.7"/>
<rect x="147.14" y="650.67" width="7.52" height="7.61" fill="#c50d2c" stroke="#efdcde" stroke-width="0.7"/>
<rect x="154.66" y="650.67" width="7.52" height="7.61" fill="#c50d2c" stroke="#efdcde" stroke-width="0.7"/>
<rect x="169.7" y="650.67" width="7.52" height="7.61" fill="#c50d2c" stroke="#efdcde" stroke-width="0.7"/>
<rect x="184.74" y="650.67" width="7.52" height="7.61" fill="#c50d2c" stroke="#efdcde" stroke-width="0.7"/>
<rect x="192.26" y="650.67" width="7.52" height="7.61" fill="#c50d2c" stroke="#efdcde" stroke-width="0.7"/>
<rect x="207.3" y="650.67" width="7.52" height="7.61" fill="#c50d2c" stroke="#efdcde" stroke-width="0.7"/>
<rect x="237.39" y="650.67" width="7.52" height="7.61" fill="#c50d2c" stroke="#efdcde" stroke-width="0.7"/>
<rect x="259.95" y="650.67" width="7.52" height="7.61" fill="#c50d2c" stroke="#efdcde" stroke-width="0.7"/>
<rect x="267.47" y="650.67" width="7.52" height="7.61" fill="#c50d2c" stroke="#efdcde" stroke-width="0.7"/>
<rect x="285.16" y="650.67" width="7.52" height="7.61" fill="#c50d2c" stroke="#efdcde" stroke-width="0.7"/>
<rect x="300.2" y="650.67" width="7.52" height="7.61" fill="#c50d2c" stroke="#efdcde" stroke-width="0.7"/>
<rect x="315.24" y="650.67" width="7.52" height="7.61" fill="#c50d2c" stroke="#efdcde" stroke-width="0.7"/>
<rect x="330.28" y="650.67" width="7.52" height="7.61" fill="#c50d2c" stroke="#efdcde" stroke-width="0.7"/>
<rect x="360.36" y="650.67" width="7.52" height="7.61" fill="#c50d2c" stroke="#efdcde" stroke-width="0.7"/>
<rect x="367.88" y="650.67" width="7.52" height="7.61" fill="#c50d2c" stroke="#efdcde" stroke-width="0.7"/>
<rect x="375.4" y="650.67" width="7.52" height="7.61" fill="#c50d2c" stroke="#efdcde" stroke-width="0.7"/>
<rect x="382.92" y="650.67" width="7.52" height="7.61" fill="#c50d2c" stroke="#efdcde" stroke-width="0.7"/>
<rect x="390.44" y="650.67" width="7.52" height="7.61" fill="#c50d2c" stroke="#efdcde" stroke-width="0.7"/>
<rect x="397.96" y="650.67" width="7.52" height="7.61" fill="#c50d2c" stroke="#efdcde" stroke-width="0.7"/>
<rect x="121.93" y="658.28" width="7.52" height="7.61" fill="#c50d2c" stroke="#efdcde" stroke-width="0.7"/>
<rect x="129.45" y="658.28" width="7.52" height="7.61" fill="#c50d2c" stroke="#efdcde" stroke-width="0.7"/>
<rect x="147.14" y="658.28" width="7.52" height="7.61" fill="#c50d2c" stroke="#efdcde" stroke-width="0.7"/>
<rect x="154.66" y="658.28" width="7.52" height="7.61" fill="#c50d2c" stroke="#efdcde" stroke-width="0.7"/>
<rect x="169.7" y="658.28" width="7.52" height="7.61" fill="#c50d2c" stroke="#efdcde" stroke-width="0.7"/>
<rect x="207.3" y="658.28" width="7.52" height="7.61" fill="#c50d2c" stroke="#efdcde" stroke-width="0.7"/>
<rect x="229.86" y="658.28" width="7.52" height="7.61" fill="#c50d2c" stroke="#efdcde" stroke-width="0.7"/>
<rect x="237.39" y="658.28" width="7.52" height="7.61" fill="#c50d2c" stroke="#efdcde" stroke-width="0.7"/>
<rect x="259.95" y="658.28" width="7.52" height="7.61" fill="#c50d2c" stroke="#efdcde" stroke-width="0.7"/>
<rect x="267.47" y="658.28" width="7.52" height="7.61" fill="#c50d2c" stroke="#efdcde" stroke-width="0.7"/>
<rect x="315.24" y="658.28" width="7.52" height="7.61" fill="#c50d2c" stroke="#efdcde" stroke-width="0.7"/>
<rect x="330.28" y="658.28" width="7.52" height="7.61" fill="#c50d2c" stroke="#efdcde" stroke-width="0.7"/>
<rect x="367.88" y="658.28" width="7.52" height="7.61" fill="#c50d2c" stroke="#efdcde" stroke-width="0.7"/>
<rect x="390.44" y="658.28" width="7.52" height="7.61" fill="#c50d2c" stroke="#efdcde" stroke-width="0.7"/>
<rect x="397.96" y="658.28" width="7.52" height="7.61" fill="#c50d2c" stroke="#efdcde" stroke-width="0.7"/>
<rect x="121.93" y="665.89" width="7.52" height="7.61" fill="#c50d2c" stroke="#efdcde" stroke-width="0.7"/>
<rect x="129.45" y="665.89" width="7.52" height="7.61" fill="#c50d2c" stroke="#efdcde" stroke-width="0.7"/>
<rect x="147.14" y="665.89" width="7.52" height="7.61" fill="#c50d2c" stroke="#efdcde" stroke-width="0.7"/>
<rect x="154.66" y="665.89" width="7.52" height="7.61" fill="#c50d2c" stroke="#efdcde" stroke-width="0.7"/>
<rect x="169.7" y="665.89" width="7.52" height="7.61" fill="#c50d2c" stroke="#efdcde" stroke-width="0.7"/>
<rect x="192.26" y="665.89" width="7.52" height="7.61" fill="#c50d2c" stroke="#efdcde" stroke-width="0.7"/>
<rect x="207.3" y="665.89" width="7.52" height="7.61" fill="#c50d2c" stroke="#efdcde" stroke-width="0.7"/>
<rect x="222.34" y="665.89" width="7.52" height="7.61" fill="#c50d2c" stroke="#efdcde" stroke-width="0.7"/>
<rect x="229.86" y="665.89" width="7.52" height="7.61" fill="#c50d2c" stroke="#efdcde" stroke-width="0.7"/>
<rect x="237.39" y="665.89" width="7.52" height="7.61" fill="#c50d2c" stroke="#efdcde" stroke-width="0.7"/>
<rect x="259.95" y="665.89" width="7.52" height="7.61" fill="#c50d2c" stroke="#efdcde" stroke-width="0.7"/>
<rect x="267.47" y="665.89" width="7.52" height="7.61" fill="#c50d2c" stroke="#efdcde" stroke-width="0.7"/>
<rect x="285.16" y="665.89" width="7.52" height="7.61" fill="#c50d2c" stroke="#efdcde" stroke-width="0.7"/>
<rect x="300.2" y="665.89" width="7.52" height="7.61" fill="#c50d2c" stroke="#efdcde" stroke-width="0.7"/>
<rect x="315.24" y="665.89" width="7.52" height="7.61" fill="#c50d2c" stroke="#efdcde" stroke-width="0.7"/>
<rect x="330.28" y="665.89" width="7.52" height="7.61" fill="#c50d2c" stroke="#efdcde" stroke-width="0.7"/>
<rect x="367.88" y="665.89" width="7.52" height="7.61" fill="#c50d2c" stroke="#efdcde" stroke-width="0.7"/>
<rect x="390.44" y="665.89" width="7.52" height="7.61" fill="#c50d2c" stroke="#efdcde" stroke-width="0.7"/>
<rect x="397.96" y="665.89" width="7.52" height="7.61" fill="#c50d2c" stroke="#efdcde" stroke-width="0.7"/>
<text x="415.3" y="595.2" font-size="6.25" font-weight="bold" fill="#111" stroke="#111" stroke-width="0.2">stage</text>
<text x="415.3" y="602.5" font-size="6.25" font-weight="bold" fill="#111" stroke="#111" stroke-width="0.2">assay</text>
<text x="415.3" y="610.96" font-size="6" fill="#2b2b2b" stroke="#2b2b2b" stroke-width="0.13">gain3q26</text>
<text x="415.3" y="618.57" font-size="6" fill="#2b2b2b" stroke="#2b2b2b" stroke-width="0.13">gain12</text>
<text x="415.3" y="626.18" font-size="6" fill="#2b2b2b" stroke="#2b2b2b" stroke-width="0.13">gain7</text>
<text x="415.3" y="633.79" font-size="6" fill="#2b2b2b" stroke="#2b2b2b" stroke-width="0.13">chromoplexy</text>
<text x="415.3" y="641.4" font-size="6" fill="#2b2b2b" stroke="#2b2b2b" stroke-width="0.13">del7q31</text>
<text x="415.3" y="649.01" font-size="6" fill="#2b2b2b" stroke="#2b2b2b" stroke-width="0.13">gain 6p22</text>
<text x="415.3" y="656.62" font-size="6" fill="#2b2b2b" stroke="#2b2b2b" stroke-width="0.13">del6q</text>
<text x="415.3" y="664.23" font-size="6" fill="#2b2b2b" stroke="#2b2b2b" stroke-width="0.13">del6q14</text>
<text x="415.3" y="671.84" font-size="6" fill="#2b2b2b" stroke="#2b2b2b" stroke-width="0.13">del6q16</text>
<text transform="translate(57.01 677.2) rotate(-90)" font-size="5.5" text-anchor="end" textLength="33.6" lengthAdjust="spacingAndGlyphs" fill="#333" stroke="#333" stroke-width="0.15">ID_H197368</text>
<text transform="translate(64.53 677.2) rotate(-90)" font-size="5.5" text-anchor="end" textLength="33.6" lengthAdjust="spacingAndGlyphs" fill="#333" stroke="#333" stroke-width="0.15">ID_H197370</text>
<text transform="translate(72.05 677.2) rotate(-90)" font-size="5.5" text-anchor="end" textLength="33.6" lengthAdjust="spacingAndGlyphs" fill="#333" stroke="#333" stroke-width="0.15">ID_H197371</text>
<text transform="translate(79.57 677.2) rotate(-90)" font-size="5.5" text-anchor="end" textLength="33.6" lengthAdjust="spacingAndGlyphs" fill="#333" stroke="#333" stroke-width="0.15">ID_H197372</text>
<text transform="translate(87.09 677.2) rotate(-90)" font-size="5.5" text-anchor="end" textLength="33.6" lengthAdjust="spacingAndGlyphs" fill="#333" stroke="#333" stroke-width="0.15">ID_H197375</text>
<text transform="translate(94.61 677.2) rotate(-90)" font-size="5.5" text-anchor="end" textLength="33.6" lengthAdjust="spacingAndGlyphs" fill="#333" stroke="#333" stroke-width="0.15">ID_H201590</text>
<text transform="translate(102.13 677.2) rotate(-90)" font-size="5.5" text-anchor="end" textLength="29.6" lengthAdjust="spacingAndGlyphs" fill="#333" stroke="#333" stroke-width="0.15">P-0048645</text>
<text transform="translate(109.65 677.2) rotate(-90)" font-size="5.5" text-anchor="end" textLength="29.6" lengthAdjust="spacingAndGlyphs" fill="#333" stroke="#333" stroke-width="0.15">P-0052937</text>
<text transform="translate(117.17 677.2) rotate(-90)" font-size="5.5" text-anchor="end" textLength="29.6" lengthAdjust="spacingAndGlyphs" fill="#333" stroke="#333" stroke-width="0.15">P-0061538</text>
<text transform="translate(127.34 677.2) rotate(-90)" font-size="5.5" text-anchor="end" textLength="29.6" lengthAdjust="spacingAndGlyphs" fill="#333" stroke="#333" stroke-width="0.15">P-0053809</text>
<text transform="translate(134.86 677.2) rotate(-90)" font-size="5.5" text-anchor="end" textLength="29.6" lengthAdjust="spacingAndGlyphs" fill="#333" stroke="#333" stroke-width="0.15">P-0054209</text>
<text transform="translate(145.03 677.2) rotate(-90)" font-size="5.5" text-anchor="end" textLength="33.6" lengthAdjust="spacingAndGlyphs" fill="#333" stroke="#333" stroke-width="0.15">ID_H197369</text>
<text transform="translate(152.55 677.2) rotate(-90)" font-size="5.5" text-anchor="end" textLength="33.6" lengthAdjust="spacingAndGlyphs" fill="#333" stroke="#333" stroke-width="0.15">ID_H201589</text>
<text transform="translate(160.07 677.2) rotate(-90)" font-size="5.5" text-anchor="end" textLength="33.6" lengthAdjust="spacingAndGlyphs" fill="#333" stroke="#333" stroke-width="0.15">ID_H201591</text>
<text transform="translate(167.59 677.2) rotate(-90)" font-size="5.5" text-anchor="end" textLength="33.6" lengthAdjust="spacingAndGlyphs" fill="#333" stroke="#333" stroke-width="0.15">ID_H201592</text>
<text transform="translate(175.11 677.2) rotate(-90)" font-size="5.5" text-anchor="end" textLength="33.6" lengthAdjust="spacingAndGlyphs" fill="#333" stroke="#333" stroke-width="0.15">ID_H201593</text>
<text transform="translate(182.63 677.2) rotate(-90)" font-size="5.5" text-anchor="end" textLength="33.6" lengthAdjust="spacingAndGlyphs" fill="#333" stroke="#333" stroke-width="0.15">ID_H201594</text>
<text transform="translate(190.15 677.2) rotate(-90)" font-size="5.5" text-anchor="end" textLength="33.6" lengthAdjust="spacingAndGlyphs" fill="#333" stroke="#333" stroke-width="0.15">ID_H201595</text>
<text transform="translate(197.67 677.2) rotate(-90)" font-size="5.5" text-anchor="end" textLength="29.6" lengthAdjust="spacingAndGlyphs" fill="#333" stroke="#333" stroke-width="0.15">P-0038768</text>
<text transform="translate(205.19 677.2) rotate(-90)" font-size="5.5" text-anchor="end" textLength="29.6" lengthAdjust="spacingAndGlyphs" fill="#333" stroke="#333" stroke-width="0.15">P-0040481</text>
<text transform="translate(212.71 677.2) rotate(-90)" font-size="5.5" text-anchor="end" textLength="29.6" lengthAdjust="spacingAndGlyphs" fill="#333" stroke="#333" stroke-width="0.15">P-0043259</text>
<text transform="translate(220.23 677.2) rotate(-90)" font-size="5.5" text-anchor="end" textLength="29.6" lengthAdjust="spacingAndGlyphs" fill="#333" stroke="#333" stroke-width="0.15">P-0044632</text>
<text transform="translate(227.75 677.2) rotate(-90)" font-size="5.5" text-anchor="end" textLength="29.6" lengthAdjust="spacingAndGlyphs" fill="#333" stroke="#333" stroke-width="0.15">P-0045608</text>
<text transform="translate(235.28 677.2) rotate(-90)" font-size="5.5" text-anchor="end" textLength="29.6" lengthAdjust="spacingAndGlyphs" fill="#333" stroke="#333" stroke-width="0.15">P-0049645</text>
<text transform="translate(242.8 677.2) rotate(-90)" font-size="5.5" text-anchor="end" textLength="29.6" lengthAdjust="spacingAndGlyphs" fill="#333" stroke="#333" stroke-width="0.15">P-0051318</text>
<text transform="translate(250.32 677.2) rotate(-90)" font-size="5.5" text-anchor="end" textLength="29.6" lengthAdjust="spacingAndGlyphs" fill="#333" stroke="#333" stroke-width="0.15">P-0052182</text>
<text transform="translate(257.84 677.2) rotate(-90)" font-size="5.5" text-anchor="end" textLength="29.6" lengthAdjust="spacingAndGlyphs" fill="#333" stroke="#333" stroke-width="0.15">P-0056253</text>
<text transform="translate(265.36 677.2) rotate(-90)" font-size="5.5" text-anchor="end" textLength="29.6" lengthAdjust="spacingAndGlyphs" fill="#333" stroke="#333" stroke-width="0.15">P-0060322</text>
<text transform="translate(272.88 677.2) rotate(-90)" font-size="5.5" text-anchor="end" textLength="29.6" lengthAdjust="spacingAndGlyphs" fill="#333" stroke="#333" stroke-width="0.15">P-0076102</text>
<text transform="translate(283.05 677.2) rotate(-90)" font-size="5.5" text-anchor="end" textLength="33.6" lengthAdjust="spacingAndGlyphs" fill="#333" stroke="#333" stroke-width="0.15">ID_H197362</text>
<text transform="translate(290.57 677.2) rotate(-90)" font-size="5.5" text-anchor="end" textLength="29.6" lengthAdjust="spacingAndGlyphs" fill="#333" stroke="#333" stroke-width="0.15">P-0003309</text>
<text transform="translate(298.09 677.2) rotate(-90)" font-size="5.5" text-anchor="end" textLength="29.6" lengthAdjust="spacingAndGlyphs" fill="#333" stroke="#333" stroke-width="0.15">P-0020391</text>
<text transform="translate(305.61 677.2) rotate(-90)" font-size="5.5" text-anchor="end" textLength="29.6" lengthAdjust="spacingAndGlyphs" fill="#333" stroke="#333" stroke-width="0.15">P-0025184</text>
<text transform="translate(313.13 677.2) rotate(-90)" font-size="5.5" text-anchor="end" textLength="29.6" lengthAdjust="spacingAndGlyphs" fill="#333" stroke="#333" stroke-width="0.15">P-0030742</text>
<text transform="translate(320.65 677.2) rotate(-90)" font-size="5.5" text-anchor="end" textLength="29.6" lengthAdjust="spacingAndGlyphs" fill="#333" stroke="#333" stroke-width="0.15">P-0034073</text>
<text transform="translate(328.17 677.2) rotate(-90)" font-size="5.5" text-anchor="end" textLength="29.6" lengthAdjust="spacingAndGlyphs" fill="#333" stroke="#333" stroke-width="0.15">P-0037200</text>
<text transform="translate(335.69 677.2) rotate(-90)" font-size="5.5" text-anchor="end" textLength="29.6" lengthAdjust="spacingAndGlyphs" fill="#333" stroke="#333" stroke-width="0.15">P-0043083</text>
<text transform="translate(343.21 677.2) rotate(-90)" font-size="5.5" text-anchor="end" textLength="29.6" lengthAdjust="spacingAndGlyphs" fill="#333" stroke="#333" stroke-width="0.15">P-0044892</text>
<text transform="translate(350.73 677.2) rotate(-90)" font-size="5.5" text-anchor="end" textLength="29.6" lengthAdjust="spacingAndGlyphs" fill="#333" stroke="#333" stroke-width="0.15">P-0046630</text>
<text transform="translate(358.25 677.2) rotate(-90)" font-size="5.5" text-anchor="end" textLength="29.6" lengthAdjust="spacingAndGlyphs" fill="#333" stroke="#333" stroke-width="0.15">P-0047299</text>
<text transform="translate(365.77 677.2) rotate(-90)" font-size="5.5" text-anchor="end" textLength="29.6" lengthAdjust="spacingAndGlyphs" fill="#333" stroke="#333" stroke-width="0.15">P-0050159</text>
<text transform="translate(373.29 677.2) rotate(-90)" font-size="5.5" text-anchor="end" textLength="29.6" lengthAdjust="spacingAndGlyphs" fill="#333" stroke="#333" stroke-width="0.15">P-0053181</text>
<text transform="translate(380.81 677.2) rotate(-90)" font-size="5.5" text-anchor="end" textLength="29.6" lengthAdjust="spacingAndGlyphs" fill="#333" stroke="#333" stroke-width="0.15">P-0057625</text>
<text transform="translate(388.33 677.2) rotate(-90)" font-size="5.5" text-anchor="end" textLength="29.6" lengthAdjust="spacingAndGlyphs" fill="#333" stroke="#333" stroke-width="0.15">P-0057658</text>
<text transform="translate(395.85 677.2) rotate(-90)" font-size="5.5" text-anchor="end" textLength="29.6" lengthAdjust="spacingAndGlyphs" fill="#333" stroke="#333" stroke-width="0.15">P-0068906</text>
<text transform="translate(403.37 677.2) rotate(-90)" font-size="5.5" text-anchor="end" textLength="29.6" lengthAdjust="spacingAndGlyphs" fill="#333" stroke="#333" stroke-width="0.15">P-0070458</text>
<text transform="translate(410.89 677.2) rotate(-90)" font-size="5.5" text-anchor="end" textLength="29.6" lengthAdjust="spacingAndGlyphs" fill="#333" stroke="#333" stroke-width="0.15">P-0077233</text>
<text x="452.1" y="593.35" font-size="6.25" font-weight="bold" fill="#111" stroke="#111" stroke-width="0.2">stage</text>
<rect x="452.1" y="596.2" width="8.2" height="8.2" fill="#32a9df" stroke="#e9e4da" stroke-width="0.4"/>
<text x="462.1" y="602.05" font-size="5.75" fill="#2b2b2b" stroke="#2b2b2b" stroke-width="0.13">stable_precursor</text>
<rect x="452.1" y="604.4" width="8.2" height="8.2" fill="#f8bd14" stroke="#e9e4da" stroke-width="0.4"/>
<text x="462.1" y="610.25" font-size="5.75" fill="#2b2b2b" stroke="#2b2b2b" stroke-width="0.13">progressive_precursor</text>
<rect x="452.1" y="612.6" width="8.2" height="8.2" fill="#c06b1b" stroke="#e9e4da" stroke-width="0.4"/>
<text x="462.1" y="618.45" font-size="5.75" fill="#2b2b2b" stroke="#2b2b2b" stroke-width="0.13">WM_pretreatment</text>
<rect x="452.1" y="620.8" width="8.2" height="8.2" fill="#c30e2c" stroke="#e9e4da" stroke-width="0.4"/>
<text x="462.1" y="626.65" font-size="5.75" fill="#2b2b2b" stroke="#2b2b2b" stroke-width="0.13">WM_treated</text>
<text x="452.1" y="639.95" font-size="6.25" font-weight="bold" fill="#111" stroke="#111" stroke-width="0.2">assay</text>
<rect x="452.1" y="642.8" width="8.2" height="8.2" fill="#066c50" stroke="#e9e4da" stroke-width="0.4"/>
<text x="462.1" y="648.5" font-size="5.75" fill="#2b2b2b" stroke="#2b2b2b" stroke-width="0.13">WGS</text>
<rect x="452.1" y="651" width="8.2" height="8.2" fill="#acc388" stroke="#e9e4da" stroke-width="0.4"/>
<text x="462.1" y="656.7" font-size="5.75" fill="#2b2b2b" stroke="#2b2b2b" stroke-width="0.13">MSK_IMPACT</text>
<path d="M20.5 615.94L20.5 653.52M20.5 615.94L30.6 615.94M20.5 653.52L27.9 653.52M30.6 608.81L30.6 623.08M30.6 608.81L51.4 608.81M30.6 623.08L33 623.08M33 616.42L33 629.74M33 616.42L51.4 616.42M33 624.03L33 635.44M33 624.03L51.4 624.03M33 635.44L35.6 635.44M35.6 631.64L35.6 639.25M35.6 631.64L51.4 631.64M35.6 639.25L51.4 639.25M27.9 646.86L27.9 660.18M27.9 646.86L51.4 646.86M27.9 660.18L33 660.18M33 654.47L33 665.89M33 654.47L51.4 654.47M33 665.89L38.2 665.89M38.2 662.08L38.2 669.69M38.2 662.08L51.4 662.08M38.2 669.69L51.4 669.69" stroke="#3c3c3c" stroke-width="1.0" fill="none" stroke-linecap="square"/>
</svg>
</body></html>
